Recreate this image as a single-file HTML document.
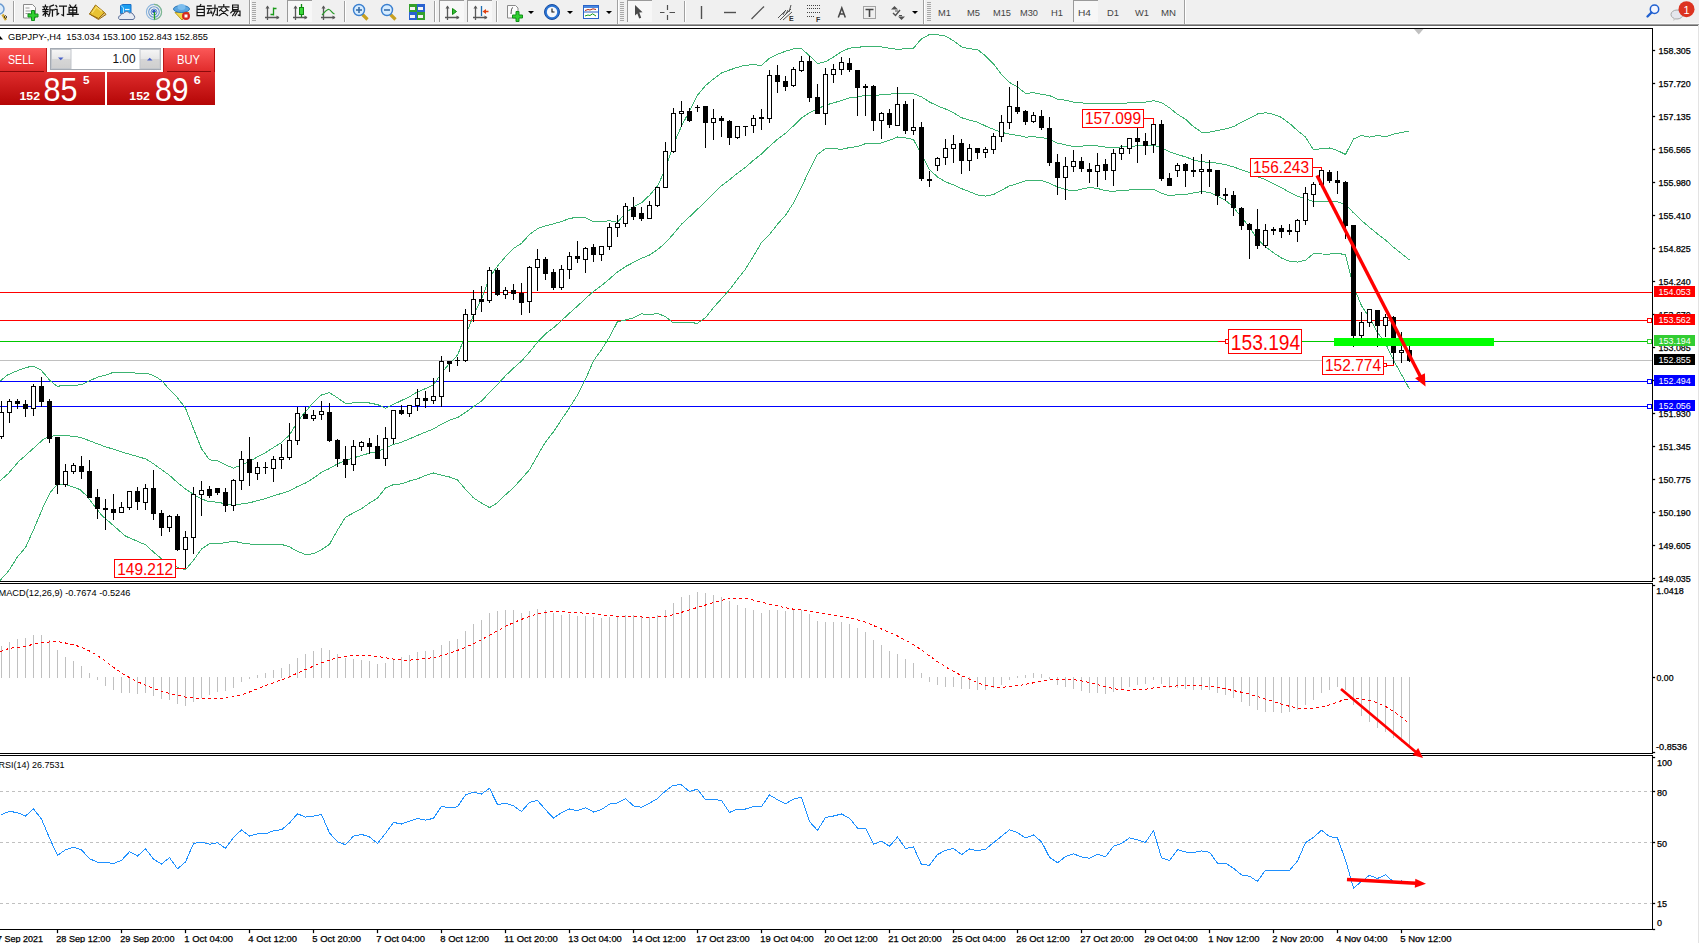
<!DOCTYPE html><html><head><meta charset="utf-8"><title>GBPJPY H4</title><style>html,body{margin:0;padding:0;width:1699px;height:943px;overflow:hidden;background:#fff}svg{position:absolute;left:0;top:0;display:block}</style></head><body>
<svg width="1699" height="943" viewBox="0 0 1699 943" font-family="Liberation Sans, sans-serif">
<rect x="0" y="0" width="1699" height="943" fill="#ffffff"/>
<g id="toolbar">
<rect x="0" y="0" width="1699" height="24" fill="#f0f0f0"/>
<line x1="0" y1="23.5" x2="1699" y2="23.5" stroke="#f7f7f7" stroke-width="1" />
<line x1="0" y1="24.5" x2="1699" y2="24.5" stroke="#a0a0a0" stroke-width="1" />
<line x1="0" y1="25.5" x2="1699" y2="25.5" stroke="#696969" stroke-width="1" />
<circle cx="-1" cy="9" r="5" fill="#dcecfb" stroke="#6a9ad0" stroke-width="1.5"/>
<path d="M2.5 14.5L6 20" stroke="#d0a830" stroke-width="2.5"/>
<path d="M5.5 15.5l1.5 1.5l-1.5 1.5l-1.5 -1.5z" fill="none" stroke="#222" stroke-width="0.8"/>
<rect x="13" y="1" width="1" height="21" fill="#a0a0a0"/><rect x="14" y="1" width="1" height="21" fill="#ffffff"/>
<path d="M23.5 4.5h9l3 3v10.5h-12z" fill="#fbfbfb" stroke="#8a8a8a"/>
<path d="M25.5 8h4M25.5 11h6M25.5 13.5h5" stroke="#9a9a9a" stroke-width="1"/>
<path d="M31.5 10.5h3v3.5h3.5v3h-3.5v3.5h-3v-3.5h-3.5v-3h3.5z" fill="#2fd02f" stroke="#13901a" stroke-width="1"/>
<g transform="translate(42.50 4.50) scale(0.976)" fill="none" stroke="#111" stroke-width="1.25" stroke-linecap="square"><path d="M3 0.5V1.8M0.5 2.3H5.5M1.6 3.3L2.1 4.6M4.4 3.3L3.9 4.6M0.3 5.2H5.8M0.6 7.2H5.5M3 5.2V12M3 8L0.6 11M3 8.2L5.6 10.4M11.3 0.6L7.6 2V8.2L6.5 12M7.6 5.6H12M10.2 5.6V12"/></g>
<g transform="translate(54.70 4.50) scale(0.976)" fill="none" stroke="#111" stroke-width="1.25" stroke-linecap="square"><path d="M1.2 1L2.2 2.4M0.5 5H2.5V10.5L4 9.2M5 1.6H12M9 1.6V11.5L7.4 10.5"/></g>
<g transform="translate(66.90 4.50) scale(0.976)" fill="none" stroke="#111" stroke-width="1.25" stroke-linecap="square"><path d="M3 0.5L4 2M9.2 0.5L8.2 2M2.2 3H10V8.6H2.2ZM2.2 5.8H10M6.1 3V12M0.5 10.2H11.6"/></g>
<path d="M89.5 14L98.5 19.5L106 14.5L104.5 12.5L98.5 18z" fill="#dcc07a" stroke="#9a6c10" stroke-width="1"/>
<path d="M89.5 14L95.5 5L104.5 12.5L98.5 18.5z" fill="#e8c232" stroke="#9a6c10" stroke-width="1"/>
<path d="M92 13L96.5 7L102 11.5" fill="none" stroke="#f8e070" stroke-width="1.2"/>
<path d="M120.5 5.5L123 4.5H131V13.5H120.5z" fill="#1a9ef0" stroke="#1a70c8" stroke-width="1"/>
<path d="M121 5.5L123.5 8V13" fill="none" stroke="#c8ecff" stroke-width="0.9"/>
<path d="M125 9.5h4.5" stroke="#e8f6ff" stroke-width="1.2"/>
<path d="M119.5 19.5H133a2.5 2.5 0 0 0 0.5 -4.5a3 3 0 0 0 -4 -2a3.5 3.5 0 0 0 -6 0.5a2.5 2.5 0 0 0 -3 2a2.2 2.2 0 0 0 -1 4z" fill="#e6ebf3" stroke="#5a6e98" stroke-width="1"/>
<circle cx="154" cy="12" r="7.6" fill="none" stroke="#8ab4dc" stroke-width="1.1"/>
<circle cx="154" cy="12" r="5.3" fill="none" stroke="#6a9ad0" stroke-width="1.1"/>
<circle cx="154" cy="12" r="3" fill="none" stroke="#5a8ad0" stroke-width="1"/>
<path d="M154 4.4A7.6 7.6 0 0 1 154 19.6" fill="none" stroke="#7ab87a" stroke-width="1.2" opacity="0.8"/>
<circle cx="154" cy="11.5" r="1.8" fill="#2a55c0"/><path d="M154.5 12V19.5" stroke="#20a020" stroke-width="1.3"/>
<path d="M175 12.5L189 12.5L182 20z" fill="#f2d64a" stroke="#b89a20" stroke-width="1"/>
<ellipse cx="181.5" cy="9" rx="8" ry="3.5" fill="#5aa6e0" stroke="#2e77b8" stroke-width="1"/>
<ellipse cx="181.5" cy="7" rx="4" ry="3" fill="#7cbdee"/>
<circle cx="186" cy="16" r="4" fill="#d42a20"/><rect x="184.5" y="14.5" width="3" height="3" fill="#fff"/>
<g transform="translate(195.00 4.50) scale(0.928)" fill="none" stroke="#111" stroke-width="1.25" stroke-linecap="square"><path d="M6.2 0L5.2 1.6M2.2 2H10V12H2.2ZM2.2 5.3H10M2.2 8.6H10"/></g>
<g transform="translate(206.60 4.50) scale(0.928)" fill="none" stroke="#111" stroke-width="1.25" stroke-linecap="square"><path d="M1 1.5H5M0.5 4.5H5.6M3 4.5L1 9.6L5.6 8.6M4.6 7L5.6 9.6M6.6 4H11.6V11.5L10 11M9 0.5V6L6.5 12"/></g>
<g transform="translate(218.20 4.50) scale(0.928)" fill="none" stroke="#111" stroke-width="1.25" stroke-linecap="square"><path d="M6 0V1.5M0.5 2.6H11.6M4 4L1.5 6.6M8 4L10.6 6.6M3.4 6.4L10.2 12M8.6 6.4L1 12"/></g>
<g transform="translate(229.80 4.50) scale(0.928)" fill="none" stroke="#111" stroke-width="1.25" stroke-linecap="square"><path d="M3 0.5H9V5.6H3ZM3 3H9M3.6 6.4L1 9M3.2 7.2H11V12L9.2 11.4M6.2 7.2L3 12M8.6 7.2L5.6 12"/></g>
<rect x="249" y="0" width="1" height="24" fill="#a0a0a0"/><rect x="250" y="0" width="1" height="24" fill="#fff"/>
<rect x="252" y="2" width="4" height="1" fill="#a8a8a8"/>
<rect x="252" y="4" width="4" height="1" fill="#a8a8a8"/>
<rect x="252" y="6" width="4" height="1" fill="#a8a8a8"/>
<rect x="252" y="8" width="4" height="1" fill="#a8a8a8"/>
<rect x="252" y="10" width="4" height="1" fill="#a8a8a8"/>
<rect x="252" y="12" width="4" height="1" fill="#a8a8a8"/>
<rect x="252" y="14" width="4" height="1" fill="#a8a8a8"/>
<rect x="252" y="16" width="4" height="1" fill="#a8a8a8"/>
<rect x="252" y="18" width="4" height="1" fill="#a8a8a8"/>
<rect x="252" y="20" width="4" height="1" fill="#a8a8a8"/>
<g stroke="#585858" stroke-width="1.3" fill="none"><path d="M267.5 6.5V20M265.0 17.5H279.0"/></g>
<path d="M267.5 5.5l-2 3h4z M279.5 17.5l-3 -2v4z" fill="#585858"/>
<path d="M270.5 14.5H273.5M273.5 7.5V15.5M273.5 8.5H276.5" fill="none" stroke="#1a9a1a" stroke-width="1.3"/>
<rect x="287" y="0" width="25" height="22" fill="#f7f7f7"/>
<rect x="287" y="0" width="25" height="1" fill="#9a9a9a"/>
<rect x="287" y="0" width="1" height="22" fill="#9a9a9a"/>
<g stroke="#585858" stroke-width="1.3" fill="none"><path d="M295.5 6.5V20M293.0 17.5H307.0"/></g>
<path d="M295.5 5.5l-2 3h4z M307.5 17.5l-3 -2v4z" fill="#585858"/>
<path d="M301.5 4V17" stroke="#118811" stroke-width="1.3"/>
<rect x="299.5" y="7.5" width="4" height="7" fill="#3ad83a" stroke="#118811"/>
<g stroke="#585858" stroke-width="1.3" fill="none"><path d="M323.5 6.5V20M321.0 17.5H335.0"/></g>
<path d="M323.5 5.5l-2 3h4z M335.5 17.5l-3 -2v4z" fill="#585858"/>
<path d="M322 15C325 12 327 9 329 9.5C331 10 332 13 334.5 14" fill="none" stroke="#2a9a2a" stroke-width="1.2"/>
<rect x="344" y="1" width="1" height="21" fill="#a0a0a0"/><rect x="345" y="1" width="1" height="21" fill="#ffffff"/>
<path d="M362.5 14.5L367.5 19.5" stroke="#c8a020" stroke-width="3.2"/>
<circle cx="359" cy="10" r="5.5" fill="#d6ecff" stroke="#3a7fcf" stroke-width="1.4"/>
<path d="M356.0 10H362.0" stroke="#3a6fa8" stroke-width="1.6"/>
<path d="M359 7V13" stroke="#3a6fa8" stroke-width="1.6"/>
<path d="M390.5 14.5L395.5 19.5" stroke="#c8a020" stroke-width="3.2"/>
<circle cx="387" cy="10" r="5.5" fill="#d6ecff" stroke="#3a7fcf" stroke-width="1.4"/>
<path d="M384.0 10H390.0" stroke="#3a6fa8" stroke-width="1.6"/>
<rect x="409" y="4" width="8" height="8" fill="#34a02c"/><rect x="410" y="7" width="5" height="3" fill="#f4f4f4"/>
<rect x="417" y="4" width="8" height="8" fill="#2a62d0"/><rect x="418" y="7" width="5" height="3" fill="#f4f4f4"/>
<rect x="409" y="12" width="8" height="8" fill="#2a62d0"/><rect x="410" y="15" width="5" height="3" fill="#f4f4f4"/>
<rect x="417" y="12" width="8" height="8" fill="#34a02c"/><rect x="418" y="15" width="5" height="3" fill="#f4f4f4"/>
<rect x="434" y="1" width="1" height="21" fill="#a0a0a0"/><rect x="435" y="1" width="1" height="21" fill="#ffffff"/>
<rect x="439" y="0" width="25" height="22" fill="#f7f7f7"/>
<rect x="439" y="0" width="25" height="1" fill="#9a9a9a"/>
<rect x="439" y="0" width="1" height="22" fill="#9a9a9a"/>
<g stroke="#585858" stroke-width="1.3" fill="none"><path d="M447.5 6.5V20M445.0 17.5H459.0"/></g>
<path d="M447.5 5.5l-2 3h4z M459.5 17.5l-3 -2v4z" fill="#585858"/>
<path d="M452.5 8.5L456.5 11.5L452.5 14.5z" fill="#30c030" stroke="#118811"/>
<rect x="467" y="0" width="25" height="22" fill="#f7f7f7"/>
<rect x="467" y="0" width="25" height="1" fill="#9a9a9a"/>
<rect x="467" y="0" width="1" height="22" fill="#9a9a9a"/>
<g stroke="#585858" stroke-width="1.3" fill="none"><path d="M475.5 6.5V20M473.0 17.5H487.0"/></g>
<path d="M475.5 5.5l-2 3h4z M487.5 17.5l-3 -2v4z" fill="#585858"/>
<path d="M481.5 6V16" stroke="#1f6db0" stroke-width="1.3"/><path d="M482.5 11.5l3.5 -2.5v1.8h2.5v1.4h-2.5v1.8z" fill="#e04010"/>
<rect x="496" y="1" width="1" height="21" fill="#a0a0a0"/><rect x="497" y="1" width="1" height="21" fill="#ffffff"/>
<path d="M507.5 5.5h8l2.5 2.5v10h-10.5z" fill="#fbfbfb" stroke="#8a8a8a"/>
<path d="M511 14C511.5 11 511 8 513 7.5" fill="none" stroke="#555" stroke-width="1"/>
<path d="M516 11.5h3v3.5h3.5v3h-3.5v3.5h-3v-3.5h-3.5v-3h3.5z" fill="#2fd02f" stroke="#13901a" stroke-width="1"/>
<path d="M528.0 11h6l-3 3z" fill="#000"/>
<circle cx="552" cy="12" r="7.5" fill="#2a74d4" stroke="#1a4ea0" stroke-width="1"/>
<circle cx="552" cy="12" r="5.2" fill="#f6f8fb"/>
<path d="M552 8.5V12H554.5" fill="none" stroke="#111" stroke-width="1.1"/>
<path d="M567.0 11h6l-3 3z" fill="#000"/>
<rect x="583.5" y="5.5" width="15" height="13" fill="#fff" stroke="#2a64c8" stroke-width="1"/>
<rect x="584" y="6" width="14" height="2" fill="#4a88e0"/><path d="M583.5 12H598.5" stroke="#2a64c8"/>
<path d="M585 10.5L588 9.5L590 10L593 8.8L596 9.5" fill="none" stroke="#b02a10" stroke-width="1"/>
<path d="M585 16L588 15L590 15.5L592.5 13.8L596 16" fill="none" stroke="#1a9a1a" stroke-width="1"/>
<path d="M606.0 11h6l-3 3z" fill="#000"/>
<rect x="617" y="0" width="1" height="24" fill="#a0a0a0"/><rect x="618" y="0" width="1" height="24" fill="#fff"/>
<rect x="620" y="2" width="4" height="1" fill="#a8a8a8"/>
<rect x="620" y="4" width="4" height="1" fill="#a8a8a8"/>
<rect x="620" y="6" width="4" height="1" fill="#a8a8a8"/>
<rect x="620" y="8" width="4" height="1" fill="#a8a8a8"/>
<rect x="620" y="10" width="4" height="1" fill="#a8a8a8"/>
<rect x="620" y="12" width="4" height="1" fill="#a8a8a8"/>
<rect x="620" y="14" width="4" height="1" fill="#a8a8a8"/>
<rect x="620" y="16" width="4" height="1" fill="#a8a8a8"/>
<rect x="620" y="18" width="4" height="1" fill="#a8a8a8"/>
<rect x="620" y="20" width="4" height="1" fill="#a8a8a8"/>
<rect x="627" y="0" width="25" height="22" fill="#f7f7f7"/>
<rect x="627" y="0" width="25" height="1" fill="#9a9a9a"/>
<rect x="627" y="0" width="1" height="22" fill="#9a9a9a"/>
<path d="M635 5L642.5 12.2L639.3 12.6L641.2 17.8L639.2 18.6L637.3 13.4L635 15.6z" fill="#4a4a4a"/>
<path d="M660 12.5H664.5M669.5 12.5H675M667.5 5V10M667.5 15V20" stroke="#505050" stroke-width="1.2"/>
<rect x="684" y="1" width="1" height="21" fill="#a0a0a0"/><rect x="685" y="1" width="1" height="21" fill="#ffffff"/>
<path d="M701.5 6V19" stroke="#505050" stroke-width="1.4"/>
<path d="M724 12.5H736" stroke="#505050" stroke-width="1.4"/>
<path d="M751.5 19L764 6.5" stroke="#505050" stroke-width="1.2"/>
<path d="M778 18L786 10M780 20L791 9M783 20L792 12M783 15L785 11M786 14L788 10M789 12L791 5" stroke="#505050" stroke-width="1"/>
<text x="789" y="21" font-size="7" font-weight="bold" fill="#333">E</text>
<path d="M807 5.5H820M807 8.5H820M807 12.5H820M807 16.5H815" stroke="#444" stroke-width="1" stroke-dasharray="1,1"/>
<text x="816" y="21.5" font-size="7" font-weight="bold" fill="#333">F</text>
<path d="M838.3 17.5L841.8 8L845.3 17.5M839.6 14H844" fill="none" stroke="#454545" stroke-width="1.5"/>
<rect x="863.5" y="6.5" width="12" height="12" fill="none" stroke="#555" stroke-dasharray="1,1"/>
<path d="M865.5 9.5H873.5M869.5 9.5V17" fill="none" stroke="#454545" stroke-width="1.6"/>
<path d="M891 9.5L894.5 6L898 9.5z M898 16.5L901.5 20L905 16.5z" fill="#505050"/>
<path d="M893 13L895.5 15.5L900 10" fill="none" stroke="#505050" stroke-width="1.4"/>
<path d="M895 10.5H898v1H895z" fill="#505050"/><path d="M899 15.5H902" stroke="#505050"/>
<path d="M912.0 11h6l-3 3z" fill="#000"/>
<rect x="923" y="0" width="1" height="24" fill="#a0a0a0"/><rect x="924" y="0" width="1" height="24" fill="#fff"/>
<rect x="927" y="2" width="4" height="1" fill="#a8a8a8"/>
<rect x="927" y="4" width="4" height="1" fill="#a8a8a8"/>
<rect x="927" y="6" width="4" height="1" fill="#a8a8a8"/>
<rect x="927" y="8" width="4" height="1" fill="#a8a8a8"/>
<rect x="927" y="10" width="4" height="1" fill="#a8a8a8"/>
<rect x="927" y="12" width="4" height="1" fill="#a8a8a8"/>
<rect x="927" y="14" width="4" height="1" fill="#a8a8a8"/>
<rect x="927" y="16" width="4" height="1" fill="#a8a8a8"/>
<rect x="927" y="18" width="4" height="1" fill="#a8a8a8"/>
<rect x="927" y="20" width="4" height="1" fill="#a8a8a8"/>
<rect x="1073" y="0" width="25" height="22" fill="#f7f7f7"/>
<rect x="1073" y="0" width="25" height="1" fill="#9a9a9a"/>
<rect x="1073" y="0" width="1" height="22" fill="#9a9a9a"/>
<text x="938" y="15.6" font-size="9.6" fill="#444444" textLength="13" lengthAdjust="spacingAndGlyphs">M1</text>
<text x="967" y="15.6" font-size="9.6" fill="#444444" textLength="13" lengthAdjust="spacingAndGlyphs">M5</text>
<text x="993" y="15.6" font-size="9.6" fill="#444444" textLength="18" lengthAdjust="spacingAndGlyphs">M15</text>
<text x="1020" y="15.6" font-size="9.6" fill="#444444" textLength="18" lengthAdjust="spacingAndGlyphs">M30</text>
<text x="1051" y="15.6" font-size="9.6" fill="#444444" textLength="12" lengthAdjust="spacingAndGlyphs">H1</text>
<text x="1078" y="15.6" font-size="9.6" fill="#444444" textLength="13" lengthAdjust="spacingAndGlyphs">H4</text>
<text x="1107" y="15.6" font-size="9.6" fill="#444444" textLength="12" lengthAdjust="spacingAndGlyphs">D1</text>
<text x="1135" y="15.6" font-size="9.6" fill="#444444" textLength="14" lengthAdjust="spacingAndGlyphs">W1</text>
<text x="1161" y="15.6" font-size="9.6" fill="#444444" textLength="15" lengthAdjust="spacingAndGlyphs">MN</text>
<rect x="1184" y="0" width="1" height="24" fill="#a0a0a0"/><rect x="1185" y="0" width="1" height="24" fill="#fff"/>
<circle cx="1654.5" cy="9.2" r="4.2" fill="#f4f6ff" stroke="#2060d0" stroke-width="1.5"/>
<path d="M1651.5 12.5L1647.5 16.5" stroke="#2060d0" stroke-width="2.4" stroke-linecap="round"/>
<ellipse cx="1677" cy="14.5" rx="6" ry="4.5" fill="#e4e6ec" stroke="#a8a8a8" stroke-width="1"/>
<path d="M1674 18L1673 21L1677 18.5" fill="#c8c8c8"/>
<circle cx="1686.5" cy="9.2" r="8" fill="#dc3320"/>
<text x="1686.5" y="13.5" font-size="11" fill="#fff" text-anchor="middle">1</text>
</g>
<g shape-rendering="crispEdges">
<line x1="0" y1="28.5" x2="1653" y2="28.5" stroke="#000000" stroke-width="1" />
<line x1="1698.5" y1="25" x2="1698.5" y2="943" stroke="#e3e3e3" stroke-width="1" />
<line x1="0" y1="292.5" x2="1652" y2="292.5" stroke="#ff0000" stroke-width="1" />
<line x1="0" y1="320.5" x2="1652" y2="320.5" stroke="#ff0000" stroke-width="1" />
<line x1="0" y1="341.5" x2="1652" y2="341.5" stroke="#00c800" stroke-width="1" />
<line x1="0" y1="360.5" x2="1652" y2="360.5" stroke="#c0c0c0" stroke-width="1" />
<line x1="0" y1="381.5" x2="1652" y2="381.5" stroke="#0000ff" stroke-width="1" />
<line x1="0" y1="406.5" x2="1652" y2="406.5" stroke="#0000ff" stroke-width="1" />
</g>
<g fill="none" stroke="#3cb371" stroke-width="1" shape-rendering="crispEdges">
<polyline points="0.0,381.2 7.1,375.2 13.2,372.4 21.7,369.1 27.3,367.2 33.0,366.3 40.5,369.6 44.3,373.8 49.9,380.6 57.4,386.5 61.2,385.6 76.3,385.3 82.9,384.2 90.4,380.4 97.9,377.1 106.4,375.0 113.0,372.4 133.7,372.4 135.6,373.4 146.9,373.4 153.5,375.5 161.5,380.3 169.5,389.6 177.5,397.8 185.5,408.2 193.5,428.7 201.5,448.7 209.5,459.8 217.5,460.7 225.5,464.9 233.5,468.1 241.5,465.1 249.5,461.5 257.5,456.8 265.5,452.6 273.5,447.5 281.5,442.5 289.5,435.0 297.5,421.5 305.5,411.6 313.5,402.4 321.5,394.9 329.5,392.7 337.5,397.8 345.5,403.4 353.5,402.9 361.5,402.3 369.5,403.0 377.5,404.6 385.5,408.1 393.5,404.4 401.5,400.5 409.5,396.7 417.5,391.9 425.5,388.6 433.5,384.8 441.5,373.1 449.5,363.5 457.5,355.2 465.5,335.5 473.5,315.3 481.5,299.1 489.5,277.6 497.5,266.0 505.5,256.6 513.5,248.5 521.5,243.3 529.5,234.5 537.5,228.7 545.5,225.8 553.5,223.8 561.5,221.5 569.5,218.5 577.5,217.2 585.5,217.6 593.5,222.0 601.5,221.6 609.5,220.7 617.5,222.3 625.5,213.2 633.5,207.0 641.5,202.8 649.5,195.3 657.5,186.0 665.5,168.9 673.5,144.5 681.5,126.0 689.5,111.0 697.5,95.3 705.5,85.7 713.5,78.9 721.5,72.9 729.5,70.0 737.5,67.3 745.5,65.2 753.5,64.7 761.5,65.4 769.5,58.2 777.5,54.3 785.5,51.2 793.5,48.9 801.5,48.7 809.5,55.7 817.5,63.5 825.5,61.7 833.5,57.1 841.5,51.6 849.5,48.2 857.5,47.2 865.5,46.7 873.5,46.6 881.5,46.9 889.5,48.2 897.5,49.3 905.5,48.8 913.5,48.1 921.5,38.8 929.5,34.5 937.5,34.8 945.5,36.1 953.5,40.7 961.5,46.8 969.5,48.8 977.5,49.5 985.5,55.8 993.5,64.0 1001.5,74.4 1009.5,82.4 1017.5,87.0 1025.5,93.4 1033.5,92.7 1041.5,94.4 1049.5,95.5 1057.5,99.2 1065.5,100.2 1073.5,102.1 1081.5,102.9 1089.5,103.7 1097.5,103.5 1105.5,103.3 1113.5,103.7 1121.5,103.5 1129.5,102.8 1137.5,102.3 1145.5,102.1 1153.5,100.7 1161.5,102.5 1169.5,107.8 1177.5,114.3 1185.5,119.2 1193.5,126.7 1201.5,132.1 1209.5,132.2 1217.5,130.4 1225.5,128.9 1233.5,126.7 1241.5,122.1 1249.5,118.4 1257.5,114.0 1265.5,112.8 1273.5,114.3 1281.5,117.4 1289.5,123.4 1297.5,130.5 1305.5,137.1 1313.5,149.8 1321.5,148.6 1329.5,148.0 1337.5,150.6 1345.5,154.5 1353.5,139.0 1361.5,135.4 1369.5,137.1 1377.5,135.4 1385.5,136.7 1393.5,134.2 1401.5,132.4 1409.5,131.0"/>
<polyline points="0.0,481.0 8.6,473.2 18.9,461.2 25.8,455.2 34.3,447.5 42.9,439.7 47.2,437.2 55.0,435.5 68.7,435.8 80.0,437.2 104.7,446.5 128.6,454.0 146.0,459.0 153.5,463.8 161.5,469.6 169.5,475.3 177.5,482.6 185.5,489.1 193.5,494.4 201.5,498.9 209.5,501.8 217.5,502.1 225.5,503.9 233.5,504.6 241.5,504.0 249.5,502.8 257.5,500.7 265.5,498.6 273.5,495.9 281.5,493.4 289.5,490.9 297.5,486.5 305.5,483.0 313.5,478.1 321.5,472.3 329.5,468.5 337.5,463.9 345.5,460.3 353.5,457.9 361.5,455.5 369.5,453.1 377.5,451.4 385.5,448.0 393.5,444.5 401.5,442.2 409.5,438.9 417.5,435.4 425.5,432.1 433.5,428.9 441.5,424.1 449.5,420.2 457.5,417.6 465.5,412.4 473.5,406.6 481.5,401.1 489.5,392.6 497.5,384.4 505.5,375.7 513.5,368.1 521.5,361.1 529.5,352.1 537.5,342.1 545.5,333.9 553.5,327.8 561.5,320.6 569.5,313.1 577.5,306.1 585.5,298.5 593.5,291.4 601.5,285.6 609.5,278.9 617.5,272.0 625.5,266.6 633.5,262.4 641.5,258.3 649.5,255.1 657.5,249.7 665.5,242.8 673.5,233.8 681.5,224.2 689.5,216.8 697.5,209.2 705.5,201.7 713.5,193.2 721.5,185.8 729.5,179.8 737.5,173.2 745.5,167.2 753.5,160.3 761.5,153.9 769.5,146.3 777.5,139.2 785.5,133.2 793.5,125.9 801.5,118.0 809.5,112.7 817.5,109.0 825.5,105.1 833.5,102.9 841.5,100.5 849.5,97.9 857.5,96.9 865.5,95.2 873.5,95.2 881.5,94.9 889.5,94.2 897.5,93.2 905.5,93.3 913.5,93.8 921.5,96.8 929.5,102.0 937.5,105.9 945.5,109.0 953.5,112.8 961.5,117.7 969.5,120.2 977.5,122.2 985.5,126.0 993.5,129.3 1001.5,132.3 1009.5,134.2 1017.5,135.3 1025.5,137.1 1033.5,136.8 1041.5,137.5 1049.5,139.4 1057.5,143.1 1065.5,144.8 1073.5,146.6 1081.5,146.1 1089.5,145.6 1097.5,145.9 1105.5,147.1 1113.5,147.5 1121.5,146.9 1129.5,146.4 1137.5,145.8 1145.5,145.7 1153.5,145.1 1161.5,147.8 1169.5,151.8 1177.5,154.5 1185.5,156.9 1193.5,159.8 1201.5,161.8 1209.5,162.3 1217.5,163.2 1225.5,164.7 1233.5,166.9 1241.5,169.8 1249.5,172.7 1257.5,176.7 1265.5,179.7 1273.5,183.6 1281.5,187.7 1289.5,192.3 1297.5,196.3 1305.5,198.7 1313.5,201.7 1321.5,201.3 1329.5,201.1 1337.5,201.9 1345.5,204.7 1353.5,212.8 1361.5,220.5 1369.5,227.4 1377.5,233.9 1385.5,240.0 1393.5,247.2 1401.5,253.5 1409.5,260.1"/>
<polyline points="0.0,580.5 8.6,571.0 17.2,557.3 25.8,547.0 34.3,528.0 42.9,507.6 49.8,493.0 56.7,484.9 59.2,484.4 65.2,484.4 80.0,489.5 86.7,495.9 101.7,515.3 125.6,536.2 146.0,545.0 153.5,552.1 161.5,558.8 169.5,561.0 177.5,567.4 185.5,569.9 193.5,560.2 201.5,549.1 209.5,543.7 217.5,543.6 225.5,542.8 233.5,541.1 241.5,542.9 249.5,544.0 257.5,544.6 265.5,544.6 273.5,544.4 281.5,544.4 289.5,546.8 297.5,551.5 305.5,554.4 313.5,553.8 321.5,549.7 329.5,544.3 337.5,530.1 345.5,517.2 353.5,512.9 361.5,508.7 369.5,503.1 377.5,498.1 385.5,487.9 393.5,484.6 401.5,483.9 409.5,481.0 417.5,478.9 425.5,475.5 433.5,473.0 441.5,475.1 449.5,477.0 457.5,480.0 465.5,489.3 473.5,497.9 481.5,503.1 489.5,507.6 497.5,502.8 505.5,494.8 513.5,487.6 521.5,478.8 529.5,469.7 537.5,455.6 545.5,442.0 553.5,431.7 561.5,419.6 569.5,407.7 577.5,395.0 585.5,379.4 593.5,360.8 601.5,349.7 609.5,337.0 617.5,321.7 625.5,320.0 633.5,317.9 641.5,313.8 649.5,314.8 657.5,313.4 665.5,316.6 673.5,323.0 681.5,322.4 689.5,322.7 697.5,323.2 705.5,317.7 713.5,307.6 721.5,298.7 729.5,289.7 737.5,279.2 745.5,269.1 753.5,256.0 761.5,242.5 769.5,234.5 777.5,224.2 785.5,215.3 793.5,202.9 801.5,187.4 809.5,169.6 817.5,154.4 825.5,148.5 833.5,148.7 841.5,149.3 849.5,147.6 857.5,146.6 865.5,143.6 873.5,143.9 881.5,142.9 889.5,140.3 897.5,137.0 905.5,137.9 913.5,139.5 921.5,154.8 929.5,169.6 937.5,177.0 945.5,181.9 953.5,184.8 961.5,188.6 969.5,191.7 977.5,194.9 985.5,196.1 993.5,194.6 1001.5,190.2 1009.5,185.9 1017.5,183.7 1025.5,180.7 1033.5,180.9 1041.5,180.6 1049.5,183.3 1057.5,186.9 1065.5,189.5 1073.5,191.0 1081.5,189.2 1089.5,187.5 1097.5,188.4 1105.5,190.8 1113.5,191.3 1121.5,190.3 1129.5,190.0 1137.5,189.4 1145.5,189.2 1153.5,189.4 1161.5,193.2 1169.5,195.8 1177.5,194.7 1185.5,194.7 1193.5,192.8 1201.5,191.6 1209.5,192.4 1217.5,196.0 1225.5,200.4 1233.5,207.2 1241.5,217.5 1249.5,227.0 1257.5,239.4 1265.5,246.6 1273.5,252.8 1281.5,258.0 1289.5,261.3 1297.5,262.1 1305.5,260.3 1313.5,253.6 1321.5,254.0 1329.5,254.1 1337.5,253.2 1345.5,254.8 1353.5,286.7 1361.5,305.6 1369.5,317.7 1377.5,332.4 1385.5,343.3 1393.5,360.3 1401.5,374.6 1409.5,389.1"/>
</g>
<g shape-rendering="crispEdges">
<rect x="1" y="401" width="1" height="38" fill="#000"/>
<rect x="-0.5" y="412.5" width="4" height="24" fill="#fff" stroke="#000" stroke-width="1"/>
<rect x="9" y="399" width="1" height="24" fill="#000"/>
<rect x="7.5" y="401.5" width="4" height="11" fill="#fff" stroke="#000" stroke-width="1"/>
<rect x="17" y="399" width="1" height="10" fill="#000"/>
<rect x="15" y="401" width="5" height="3" fill="#000"/>
<rect x="25" y="400" width="1" height="17" fill="#000"/>
<rect x="23" y="404" width="5" height="5" fill="#000"/>
<rect x="33" y="384" width="1" height="32" fill="#000"/>
<rect x="31.5" y="386.5" width="4" height="22" fill="#fff" stroke="#000" stroke-width="1"/>
<rect x="41" y="377" width="1" height="30" fill="#000"/>
<rect x="39" y="386" width="5" height="16" fill="#000"/>
<rect x="49" y="399" width="1" height="44" fill="#000"/>
<rect x="47" y="401" width="5" height="38" fill="#000"/>
<rect x="57" y="437" width="1" height="57" fill="#000"/>
<rect x="55" y="437" width="5" height="48" fill="#000"/>
<rect x="65" y="464" width="1" height="23" fill="#000"/>
<rect x="63.5" y="471.5" width="4" height="13" fill="#fff" stroke="#000" stroke-width="1"/>
<rect x="73" y="463" width="1" height="11" fill="#000"/>
<rect x="71.5" y="465.5" width="4" height="6" fill="#fff" stroke="#000" stroke-width="1"/>
<rect x="81" y="456" width="1" height="23" fill="#000"/>
<rect x="79" y="466" width="5" height="6" fill="#000"/>
<rect x="89" y="460" width="1" height="38" fill="#000"/>
<rect x="87" y="471" width="5" height="27" fill="#000"/>
<rect x="97" y="489" width="1" height="30" fill="#000"/>
<rect x="95" y="497" width="5" height="12" fill="#000"/>
<rect x="105" y="499" width="1" height="31" fill="#000"/>
<rect x="103" y="508" width="5" height="2" fill="#000"/>
<rect x="113" y="494" width="1" height="26" fill="#000"/>
<rect x="111" y="509" width="5" height="4" fill="#000"/>
<rect x="121" y="502" width="1" height="11" fill="#000"/>
<rect x="119.5" y="507.5" width="4" height="5" fill="#fff" stroke="#000" stroke-width="1"/>
<rect x="129" y="491" width="1" height="19" fill="#000"/>
<rect x="127.5" y="491.5" width="4" height="16" fill="#fff" stroke="#000" stroke-width="1"/>
<rect x="137" y="487" width="1" height="23" fill="#000"/>
<rect x="135" y="491" width="5" height="11" fill="#000"/>
<rect x="145" y="484" width="1" height="26" fill="#000"/>
<rect x="143.5" y="488.5" width="4" height="14" fill="#fff" stroke="#000" stroke-width="1"/>
<rect x="153" y="470" width="1" height="50" fill="#000"/>
<rect x="151" y="488" width="5" height="26" fill="#000"/>
<rect x="161" y="510" width="1" height="26" fill="#000"/>
<rect x="159" y="513" width="5" height="15" fill="#000"/>
<rect x="169" y="515" width="1" height="17" fill="#000"/>
<rect x="167.5" y="516.5" width="4" height="11" fill="#fff" stroke="#000" stroke-width="1"/>
<rect x="177" y="514" width="1" height="37" fill="#000"/>
<rect x="175" y="516" width="5" height="34" fill="#000"/>
<rect x="185" y="531" width="1" height="38" fill="#000"/>
<rect x="183.5" y="537.5" width="4" height="12" fill="#fff" stroke="#000" stroke-width="1"/>
<rect x="193" y="487" width="1" height="67" fill="#000"/>
<rect x="191.5" y="494.5" width="4" height="43" fill="#fff" stroke="#000" stroke-width="1"/>
<rect x="201" y="481" width="1" height="35" fill="#000"/>
<rect x="199.5" y="490.5" width="4" height="4" fill="#fff" stroke="#000" stroke-width="1"/>
<rect x="209" y="486" width="1" height="12" fill="#000"/>
<rect x="207" y="489" width="5" height="7" fill="#000"/>
<rect x="217" y="488" width="1" height="7" fill="#000"/>
<rect x="215" y="488" width="5" height="5" fill="#000"/>
<rect x="225" y="488" width="1" height="24" fill="#000"/>
<rect x="223" y="492" width="5" height="14" fill="#000"/>
<rect x="233" y="479" width="1" height="32" fill="#000"/>
<rect x="231.5" y="480.5" width="4" height="25" fill="#fff" stroke="#000" stroke-width="1"/>
<rect x="241" y="451" width="1" height="39" fill="#000"/>
<rect x="239.5" y="459.5" width="4" height="21" fill="#fff" stroke="#000" stroke-width="1"/>
<rect x="249" y="437" width="1" height="49" fill="#000"/>
<rect x="247" y="459" width="5" height="14" fill="#000"/>
<rect x="257" y="462" width="1" height="18" fill="#000"/>
<rect x="255.5" y="467.5" width="4" height="6" fill="#fff" stroke="#000" stroke-width="1"/>
<rect x="265" y="462" width="1" height="12" fill="#000"/>
<rect x="263" y="467" width="5" height="1" fill="#000"/>
<rect x="273" y="456" width="1" height="26" fill="#000"/>
<rect x="271.5" y="459.5" width="4" height="9" fill="#fff" stroke="#000" stroke-width="1"/>
<rect x="281" y="444" width="1" height="25" fill="#000"/>
<rect x="279.5" y="457.5" width="4" height="2" fill="#fff" stroke="#000" stroke-width="1"/>
<rect x="289" y="423" width="1" height="37" fill="#000"/>
<rect x="287.5" y="440.5" width="4" height="17" fill="#fff" stroke="#000" stroke-width="1"/>
<rect x="297" y="407" width="1" height="38" fill="#000"/>
<rect x="295.5" y="413.5" width="4" height="27" fill="#fff" stroke="#000" stroke-width="1"/>
<rect x="305" y="407" width="1" height="12" fill="#000"/>
<rect x="303" y="414" width="5" height="5" fill="#000"/>
<rect x="313" y="410" width="1" height="11" fill="#000"/>
<rect x="311.5" y="415.5" width="4" height="3" fill="#fff" stroke="#000" stroke-width="1"/>
<rect x="321" y="401" width="1" height="19" fill="#000"/>
<rect x="319.5" y="411.5" width="4" height="3" fill="#fff" stroke="#000" stroke-width="1"/>
<rect x="329" y="403" width="1" height="39" fill="#000"/>
<rect x="327" y="412" width="5" height="29" fill="#000"/>
<rect x="337" y="439" width="1" height="28" fill="#000"/>
<rect x="335" y="440" width="5" height="19" fill="#000"/>
<rect x="345" y="446" width="1" height="32" fill="#000"/>
<rect x="343" y="459" width="5" height="6" fill="#000"/>
<rect x="353" y="440" width="1" height="31" fill="#000"/>
<rect x="351.5" y="446.5" width="4" height="18" fill="#fff" stroke="#000" stroke-width="1"/>
<rect x="361" y="441" width="1" height="10" fill="#000"/>
<rect x="359.5" y="442.5" width="4" height="4" fill="#fff" stroke="#000" stroke-width="1"/>
<rect x="369" y="438" width="1" height="16" fill="#000"/>
<rect x="367" y="443" width="5" height="4" fill="#000"/>
<rect x="377" y="435" width="1" height="24" fill="#000"/>
<rect x="375" y="446" width="5" height="13" fill="#000"/>
<rect x="385" y="427" width="1" height="39" fill="#000"/>
<rect x="383.5" y="438.5" width="4" height="20" fill="#fff" stroke="#000" stroke-width="1"/>
<rect x="393" y="410" width="1" height="34" fill="#000"/>
<rect x="391.5" y="410.5" width="4" height="28" fill="#fff" stroke="#000" stroke-width="1"/>
<rect x="401" y="405" width="1" height="10" fill="#000"/>
<rect x="399" y="410" width="5" height="4" fill="#000"/>
<rect x="409" y="405" width="1" height="12" fill="#000"/>
<rect x="407.5" y="405.5" width="4" height="8" fill="#fff" stroke="#000" stroke-width="1"/>
<rect x="417" y="389" width="1" height="22" fill="#000"/>
<rect x="415.5" y="398.5" width="4" height="7" fill="#fff" stroke="#000" stroke-width="1"/>
<rect x="425" y="391" width="1" height="17" fill="#000"/>
<rect x="423" y="398" width="5" height="3" fill="#000"/>
<rect x="433" y="378" width="1" height="26" fill="#000"/>
<rect x="431.5" y="396.5" width="4" height="4" fill="#fff" stroke="#000" stroke-width="1"/>
<rect x="441" y="356" width="1" height="51" fill="#000"/>
<rect x="439.5" y="361.5" width="4" height="35" fill="#fff" stroke="#000" stroke-width="1"/>
<rect x="449" y="361" width="1" height="11" fill="#000"/>
<rect x="447" y="361" width="5" height="3" fill="#000"/>
<rect x="457" y="357" width="1" height="9" fill="#000"/>
<rect x="455" y="360" width="5" height="1" fill="#000"/>
<rect x="465" y="309" width="1" height="53" fill="#000"/>
<rect x="463.5" y="314.5" width="4" height="46" fill="#fff" stroke="#000" stroke-width="1"/>
<rect x="473" y="290" width="1" height="32" fill="#000"/>
<rect x="471.5" y="299.5" width="4" height="15" fill="#fff" stroke="#000" stroke-width="1"/>
<rect x="481" y="286" width="1" height="26" fill="#000"/>
<rect x="479" y="299" width="5" height="3" fill="#000"/>
<rect x="489" y="267" width="1" height="36" fill="#000"/>
<rect x="487.5" y="270.5" width="4" height="30" fill="#fff" stroke="#000" stroke-width="1"/>
<rect x="497" y="268" width="1" height="28" fill="#000"/>
<rect x="495" y="270" width="5" height="25" fill="#000"/>
<rect x="505" y="287" width="1" height="12" fill="#000"/>
<rect x="503.5" y="290.5" width="4" height="4" fill="#fff" stroke="#000" stroke-width="1"/>
<rect x="513" y="284" width="1" height="16" fill="#000"/>
<rect x="511" y="290" width="5" height="4" fill="#000"/>
<rect x="521" y="283" width="1" height="32" fill="#000"/>
<rect x="519" y="293" width="5" height="10" fill="#000"/>
<rect x="529" y="266" width="1" height="47" fill="#000"/>
<rect x="527.5" y="267.5" width="4" height="34" fill="#fff" stroke="#000" stroke-width="1"/>
<rect x="537" y="249" width="1" height="42" fill="#000"/>
<rect x="535.5" y="259.5" width="4" height="8" fill="#fff" stroke="#000" stroke-width="1"/>
<rect x="545" y="257" width="1" height="23" fill="#000"/>
<rect x="543" y="259" width="5" height="15" fill="#000"/>
<rect x="553" y="269" width="1" height="21" fill="#000"/>
<rect x="551" y="272" width="5" height="16" fill="#000"/>
<rect x="561" y="265" width="1" height="25" fill="#000"/>
<rect x="559.5" y="269.5" width="4" height="18" fill="#fff" stroke="#000" stroke-width="1"/>
<rect x="569" y="252" width="1" height="27" fill="#000"/>
<rect x="567.5" y="256.5" width="4" height="13" fill="#fff" stroke="#000" stroke-width="1"/>
<rect x="577" y="241" width="1" height="22" fill="#000"/>
<rect x="575" y="256" width="5" height="3" fill="#000"/>
<rect x="585" y="247" width="1" height="26" fill="#000"/>
<rect x="583.5" y="248.5" width="4" height="11" fill="#fff" stroke="#000" stroke-width="1"/>
<rect x="593" y="244" width="1" height="18" fill="#000"/>
<rect x="591" y="247" width="5" height="8" fill="#000"/>
<rect x="601" y="246" width="1" height="15" fill="#000"/>
<rect x="599.5" y="246.5" width="4" height="8" fill="#fff" stroke="#000" stroke-width="1"/>
<rect x="609" y="223" width="1" height="27" fill="#000"/>
<rect x="607.5" y="227.5" width="4" height="19" fill="#fff" stroke="#000" stroke-width="1"/>
<rect x="617" y="215" width="1" height="22" fill="#000"/>
<rect x="615.5" y="223.5" width="4" height="4" fill="#fff" stroke="#000" stroke-width="1"/>
<rect x="625" y="203" width="1" height="24" fill="#000"/>
<rect x="623.5" y="206.5" width="4" height="17" fill="#fff" stroke="#000" stroke-width="1"/>
<rect x="633" y="197" width="1" height="23" fill="#000"/>
<rect x="631" y="207" width="5" height="10" fill="#000"/>
<rect x="641" y="207" width="1" height="14" fill="#000"/>
<rect x="639" y="213" width="5" height="6" fill="#000"/>
<rect x="649" y="201" width="1" height="18" fill="#000"/>
<rect x="647.5" y="205.5" width="4" height="13" fill="#fff" stroke="#000" stroke-width="1"/>
<rect x="657" y="187" width="1" height="20" fill="#000"/>
<rect x="655.5" y="187.5" width="4" height="18" fill="#fff" stroke="#000" stroke-width="1"/>
<rect x="665" y="142" width="1" height="46" fill="#000"/>
<rect x="663.5" y="151.5" width="4" height="36" fill="#fff" stroke="#000" stroke-width="1"/>
<rect x="673" y="108" width="1" height="45" fill="#000"/>
<rect x="671.5" y="113.5" width="4" height="38" fill="#fff" stroke="#000" stroke-width="1"/>
<rect x="681" y="101" width="1" height="26" fill="#000"/>
<rect x="679.5" y="111.5" width="4" height="2" fill="#fff" stroke="#000" stroke-width="1"/>
<rect x="689" y="108" width="1" height="14" fill="#000"/>
<rect x="687" y="111" width="5" height="10" fill="#000"/>
<rect x="697" y="105" width="1" height="7" fill="#000"/>
<rect x="695" y="107" width="5" height="1" fill="#000"/>
<rect x="705" y="106" width="1" height="42" fill="#000"/>
<rect x="703" y="106" width="5" height="17" fill="#000"/>
<rect x="713" y="109" width="1" height="31" fill="#000"/>
<rect x="711.5" y="118.5" width="4" height="4" fill="#fff" stroke="#000" stroke-width="1"/>
<rect x="721" y="116" width="1" height="21" fill="#000"/>
<rect x="719" y="118" width="5" height="3" fill="#000"/>
<rect x="729" y="120" width="1" height="25" fill="#000"/>
<rect x="727" y="121" width="5" height="17" fill="#000"/>
<rect x="737" y="126" width="1" height="13" fill="#000"/>
<rect x="735.5" y="126.5" width="4" height="11" fill="#fff" stroke="#000" stroke-width="1"/>
<rect x="745" y="126" width="1" height="10" fill="#000"/>
<rect x="743" y="126" width="5" height="1" fill="#000"/>
<rect x="753" y="115" width="1" height="18" fill="#000"/>
<rect x="751.5" y="118.5" width="4" height="7" fill="#fff" stroke="#000" stroke-width="1"/>
<rect x="761" y="109" width="1" height="21" fill="#000"/>
<rect x="759" y="117" width="5" height="2" fill="#000"/>
<rect x="769" y="70" width="1" height="53" fill="#000"/>
<rect x="767.5" y="75.5" width="4" height="43" fill="#fff" stroke="#000" stroke-width="1"/>
<rect x="777" y="65" width="1" height="28" fill="#000"/>
<rect x="775" y="75" width="5" height="7" fill="#000"/>
<rect x="785" y="76" width="1" height="15" fill="#000"/>
<rect x="783" y="81" width="5" height="6" fill="#000"/>
<rect x="793" y="67" width="1" height="20" fill="#000"/>
<rect x="791.5" y="69.5" width="4" height="16" fill="#fff" stroke="#000" stroke-width="1"/>
<rect x="801" y="56" width="1" height="16" fill="#000"/>
<rect x="799.5" y="61.5" width="4" height="9" fill="#fff" stroke="#000" stroke-width="1"/>
<rect x="809" y="56" width="1" height="46" fill="#000"/>
<rect x="807" y="61" width="5" height="37" fill="#000"/>
<rect x="817" y="84" width="1" height="30" fill="#000"/>
<rect x="815" y="97" width="5" height="17" fill="#000"/>
<rect x="825" y="68" width="1" height="57" fill="#000"/>
<rect x="823.5" y="74.5" width="4" height="39" fill="#fff" stroke="#000" stroke-width="1"/>
<rect x="833" y="64" width="1" height="19" fill="#000"/>
<rect x="831.5" y="69.5" width="4" height="5" fill="#fff" stroke="#000" stroke-width="1"/>
<rect x="841" y="57" width="1" height="18" fill="#000"/>
<rect x="839.5" y="62.5" width="4" height="7" fill="#fff" stroke="#000" stroke-width="1"/>
<rect x="849" y="58" width="1" height="14" fill="#000"/>
<rect x="847" y="63" width="5" height="7" fill="#000"/>
<rect x="857" y="70" width="1" height="46" fill="#000"/>
<rect x="855" y="70" width="5" height="18" fill="#000"/>
<rect x="865" y="84" width="1" height="32" fill="#000"/>
<rect x="863" y="86" width="5" height="2" fill="#000"/>
<rect x="873" y="85" width="1" height="46" fill="#000"/>
<rect x="871" y="86" width="5" height="35" fill="#000"/>
<rect x="881" y="112" width="1" height="27" fill="#000"/>
<rect x="879.5" y="113.5" width="4" height="7" fill="#fff" stroke="#000" stroke-width="1"/>
<rect x="889" y="109" width="1" height="19" fill="#000"/>
<rect x="887" y="113" width="5" height="12" fill="#000"/>
<rect x="897" y="87" width="1" height="39" fill="#000"/>
<rect x="895.5" y="104.5" width="4" height="21" fill="#fff" stroke="#000" stroke-width="1"/>
<rect x="905" y="101" width="1" height="33" fill="#000"/>
<rect x="903" y="104" width="5" height="27" fill="#000"/>
<rect x="913" y="99" width="1" height="36" fill="#000"/>
<rect x="911.5" y="127.5" width="4" height="3" fill="#fff" stroke="#000" stroke-width="1"/>
<rect x="921" y="122" width="1" height="59" fill="#000"/>
<rect x="919" y="127" width="5" height="52" fill="#000"/>
<rect x="929" y="171" width="1" height="16" fill="#000"/>
<rect x="927" y="179" width="5" height="2" fill="#000"/>
<rect x="937" y="157" width="1" height="14" fill="#000"/>
<rect x="935.5" y="158.5" width="4" height="7" fill="#fff" stroke="#000" stroke-width="1"/>
<rect x="945" y="139" width="1" height="26" fill="#000"/>
<rect x="943.5" y="148.5" width="4" height="9" fill="#fff" stroke="#000" stroke-width="1"/>
<rect x="953" y="135" width="1" height="28" fill="#000"/>
<rect x="951.5" y="144.5" width="4" height="4" fill="#fff" stroke="#000" stroke-width="1"/>
<rect x="961" y="139" width="1" height="35" fill="#000"/>
<rect x="959" y="143" width="5" height="18" fill="#000"/>
<rect x="969" y="144" width="1" height="27" fill="#000"/>
<rect x="967.5" y="148.5" width="4" height="12" fill="#fff" stroke="#000" stroke-width="1"/>
<rect x="977" y="148" width="1" height="11" fill="#000"/>
<rect x="975" y="148" width="5" height="5" fill="#000"/>
<rect x="985" y="147" width="1" height="11" fill="#000"/>
<rect x="983.5" y="149.5" width="4" height="3" fill="#fff" stroke="#000" stroke-width="1"/>
<rect x="993" y="133" width="1" height="21" fill="#000"/>
<rect x="991.5" y="136.5" width="4" height="13" fill="#fff" stroke="#000" stroke-width="1"/>
<rect x="1001" y="115" width="1" height="27" fill="#000"/>
<rect x="999.5" y="122.5" width="4" height="14" fill="#fff" stroke="#000" stroke-width="1"/>
<rect x="1009" y="87" width="1" height="42" fill="#000"/>
<rect x="1007.5" y="106.5" width="4" height="16" fill="#fff" stroke="#000" stroke-width="1"/>
<rect x="1017" y="81" width="1" height="33" fill="#000"/>
<rect x="1015" y="107" width="5" height="5" fill="#000"/>
<rect x="1025" y="110" width="1" height="15" fill="#000"/>
<rect x="1023" y="111" width="5" height="11" fill="#000"/>
<rect x="1033" y="112" width="1" height="11" fill="#000"/>
<rect x="1031.5" y="115.5" width="4" height="6" fill="#fff" stroke="#000" stroke-width="1"/>
<rect x="1041" y="110" width="1" height="20" fill="#000"/>
<rect x="1039" y="116" width="5" height="12" fill="#000"/>
<rect x="1049" y="117" width="1" height="49" fill="#000"/>
<rect x="1047" y="128" width="5" height="35" fill="#000"/>
<rect x="1057" y="154" width="1" height="41" fill="#000"/>
<rect x="1055" y="162" width="5" height="16" fill="#000"/>
<rect x="1065" y="157" width="1" height="43" fill="#000"/>
<rect x="1063.5" y="166.5" width="4" height="11" fill="#fff" stroke="#000" stroke-width="1"/>
<rect x="1073" y="150" width="1" height="22" fill="#000"/>
<rect x="1071.5" y="161.5" width="4" height="5" fill="#fff" stroke="#000" stroke-width="1"/>
<rect x="1081" y="157" width="1" height="15" fill="#000"/>
<rect x="1079" y="161" width="5" height="8" fill="#000"/>
<rect x="1089" y="163" width="1" height="20" fill="#000"/>
<rect x="1087" y="169" width="5" height="3" fill="#000"/>
<rect x="1097" y="153" width="1" height="34" fill="#000"/>
<rect x="1095.5" y="165.5" width="4" height="6" fill="#fff" stroke="#000" stroke-width="1"/>
<rect x="1105" y="159" width="1" height="21" fill="#000"/>
<rect x="1103" y="164" width="5" height="7" fill="#000"/>
<rect x="1113" y="149" width="1" height="37" fill="#000"/>
<rect x="1111.5" y="153.5" width="4" height="17" fill="#fff" stroke="#000" stroke-width="1"/>
<rect x="1121" y="145" width="1" height="15" fill="#000"/>
<rect x="1119.5" y="148.5" width="4" height="5" fill="#fff" stroke="#000" stroke-width="1"/>
<rect x="1129" y="138" width="1" height="16" fill="#000"/>
<rect x="1127.5" y="138.5" width="4" height="10" fill="#fff" stroke="#000" stroke-width="1"/>
<rect x="1137" y="128" width="1" height="35" fill="#000"/>
<rect x="1135" y="138" width="5" height="4" fill="#000"/>
<rect x="1145" y="133" width="1" height="22" fill="#000"/>
<rect x="1143" y="141" width="5" height="5" fill="#000"/>
<rect x="1153" y="118" width="1" height="35" fill="#000"/>
<rect x="1151.5" y="124.5" width="4" height="20" fill="#fff" stroke="#000" stroke-width="1"/>
<rect x="1161" y="120" width="1" height="61" fill="#000"/>
<rect x="1159" y="124" width="5" height="55" fill="#000"/>
<rect x="1169" y="173" width="1" height="13" fill="#000"/>
<rect x="1167" y="178" width="5" height="8" fill="#000"/>
<rect x="1177" y="163" width="1" height="14" fill="#000"/>
<rect x="1175.5" y="165.5" width="4" height="5" fill="#fff" stroke="#000" stroke-width="1"/>
<rect x="1185" y="163" width="1" height="24" fill="#000"/>
<rect x="1183" y="164" width="5" height="7" fill="#000"/>
<rect x="1193" y="157" width="1" height="20" fill="#000"/>
<rect x="1191" y="170" width="5" height="2" fill="#000"/>
<rect x="1201" y="154" width="1" height="40" fill="#000"/>
<rect x="1199.5" y="169.5" width="4" height="2" fill="#fff" stroke="#000" stroke-width="1"/>
<rect x="1209" y="160" width="1" height="27" fill="#000"/>
<rect x="1207" y="169" width="5" height="3" fill="#000"/>
<rect x="1217" y="170" width="1" height="35" fill="#000"/>
<rect x="1215" y="170" width="5" height="26" fill="#000"/>
<rect x="1225" y="188" width="1" height="13" fill="#000"/>
<rect x="1223" y="194" width="5" height="2" fill="#000"/>
<rect x="1233" y="191" width="1" height="25" fill="#000"/>
<rect x="1231" y="195" width="5" height="13" fill="#000"/>
<rect x="1241" y="207" width="1" height="23" fill="#000"/>
<rect x="1239" y="208" width="5" height="18" fill="#000"/>
<rect x="1249" y="223" width="1" height="36" fill="#000"/>
<rect x="1247" y="224" width="5" height="6" fill="#000"/>
<rect x="1257" y="209" width="1" height="40" fill="#000"/>
<rect x="1255" y="229" width="5" height="17" fill="#000"/>
<rect x="1265" y="224" width="1" height="24" fill="#000"/>
<rect x="1263.5" y="230.5" width="4" height="15" fill="#fff" stroke="#000" stroke-width="1"/>
<rect x="1273" y="227" width="1" height="8" fill="#000"/>
<rect x="1271" y="229" width="5" height="2" fill="#000"/>
<rect x="1281" y="225" width="1" height="13" fill="#000"/>
<rect x="1279" y="228" width="5" height="4" fill="#000"/>
<rect x="1289" y="224" width="1" height="11" fill="#000"/>
<rect x="1287" y="230" width="5" height="2" fill="#000"/>
<rect x="1297" y="219" width="1" height="23" fill="#000"/>
<rect x="1295.5" y="220.5" width="4" height="11" fill="#fff" stroke="#000" stroke-width="1"/>
<rect x="1305" y="187" width="1" height="38" fill="#000"/>
<rect x="1303.5" y="193.5" width="4" height="27" fill="#fff" stroke="#000" stroke-width="1"/>
<rect x="1313" y="182" width="1" height="25" fill="#000"/>
<rect x="1311.5" y="184.5" width="4" height="10" fill="#fff" stroke="#000" stroke-width="1"/>
<rect x="1321" y="169" width="1" height="16" fill="#000"/>
<rect x="1319.5" y="170.5" width="4" height="14" fill="#fff" stroke="#000" stroke-width="1"/>
<rect x="1329" y="170" width="1" height="13" fill="#000"/>
<rect x="1327" y="172" width="5" height="9" fill="#000"/>
<rect x="1337" y="171" width="1" height="23" fill="#000"/>
<rect x="1335" y="180" width="5" height="3" fill="#000"/>
<rect x="1345" y="181" width="1" height="58" fill="#000"/>
<rect x="1343" y="182" width="5" height="44" fill="#000"/>
<rect x="1353" y="225" width="1" height="122" fill="#000"/>
<rect x="1351" y="225" width="5" height="111" fill="#000"/>
<rect x="1361" y="312" width="1" height="26" fill="#000"/>
<rect x="1359.5" y="322.5" width="4" height="13" fill="#fff" stroke="#000" stroke-width="1"/>
<rect x="1369" y="309" width="1" height="18" fill="#000"/>
<rect x="1367.5" y="309.5" width="4" height="13" fill="#fff" stroke="#000" stroke-width="1"/>
<rect x="1377" y="310" width="1" height="37" fill="#000"/>
<rect x="1375" y="310" width="5" height="16" fill="#000"/>
<rect x="1385" y="314" width="1" height="23" fill="#000"/>
<rect x="1383.5" y="317.5" width="4" height="8" fill="#fff" stroke="#000" stroke-width="1"/>
<rect x="1393" y="316" width="1" height="49" fill="#000"/>
<rect x="1391" y="317" width="5" height="36" fill="#000"/>
<rect x="1401" y="332" width="1" height="31" fill="#000"/>
<rect x="1399.5" y="350.5" width="4" height="2" fill="#fff" stroke="#000" stroke-width="1"/>
<rect x="1409" y="346" width="1" height="16" fill="#000"/>
<rect x="1407" y="350" width="5" height="11" fill="#000"/>
</g>
<g shape-rendering="crispEdges">
<rect x="1" y="646" width="1" height="32" fill="#c0c0c0"/>
<rect x="9" y="642" width="1" height="36" fill="#c0c0c0"/>
<rect x="17" y="639" width="1" height="39" fill="#c0c0c0"/>
<rect x="25" y="638" width="1" height="40" fill="#c0c0c0"/>
<rect x="33" y="635" width="1" height="43" fill="#c0c0c0"/>
<rect x="41" y="635" width="1" height="43" fill="#c0c0c0"/>
<rect x="49" y="640" width="1" height="38" fill="#c0c0c0"/>
<rect x="57" y="650" width="1" height="28" fill="#c0c0c0"/>
<rect x="65" y="657" width="1" height="21" fill="#c0c0c0"/>
<rect x="73" y="661" width="1" height="17" fill="#c0c0c0"/>
<rect x="81" y="666" width="1" height="12" fill="#c0c0c0"/>
<rect x="89" y="673" width="1" height="5" fill="#c0c0c0"/>
<rect x="97" y="677" width="1" height="3" fill="#c0c0c0"/>
<rect x="105" y="677" width="1" height="9" fill="#c0c0c0"/>
<rect x="113" y="677" width="1" height="13" fill="#c0c0c0"/>
<rect x="121" y="677" width="1" height="16" fill="#c0c0c0"/>
<rect x="129" y="677" width="1" height="16" fill="#c0c0c0"/>
<rect x="137" y="677" width="1" height="17" fill="#c0c0c0"/>
<rect x="145" y="677" width="1" height="16" fill="#c0c0c0"/>
<rect x="153" y="677" width="1" height="19" fill="#c0c0c0"/>
<rect x="161" y="677" width="1" height="22" fill="#c0c0c0"/>
<rect x="169" y="677" width="1" height="23" fill="#c0c0c0"/>
<rect x="177" y="677" width="1" height="27" fill="#c0c0c0"/>
<rect x="185" y="677" width="1" height="29" fill="#c0c0c0"/>
<rect x="193" y="677" width="1" height="25" fill="#c0c0c0"/>
<rect x="201" y="677" width="1" height="21" fill="#c0c0c0"/>
<rect x="209" y="677" width="1" height="18" fill="#c0c0c0"/>
<rect x="217" y="677" width="1" height="15" fill="#c0c0c0"/>
<rect x="225" y="677" width="1" height="14" fill="#c0c0c0"/>
<rect x="233" y="677" width="1" height="11" fill="#c0c0c0"/>
<rect x="241" y="677" width="1" height="5" fill="#c0c0c0"/>
<rect x="249" y="677" width="1" height="2" fill="#c0c0c0"/>
<rect x="257" y="675" width="1" height="3" fill="#c0c0c0"/>
<rect x="265" y="673" width="1" height="5" fill="#c0c0c0"/>
<rect x="273" y="670" width="1" height="8" fill="#c0c0c0"/>
<rect x="281" y="668" width="1" height="10" fill="#c0c0c0"/>
<rect x="289" y="664" width="1" height="14" fill="#c0c0c0"/>
<rect x="297" y="658" width="1" height="20" fill="#c0c0c0"/>
<rect x="305" y="654" width="1" height="24" fill="#c0c0c0"/>
<rect x="313" y="651" width="1" height="27" fill="#c0c0c0"/>
<rect x="321" y="648" width="1" height="30" fill="#c0c0c0"/>
<rect x="329" y="650" width="1" height="28" fill="#c0c0c0"/>
<rect x="337" y="654" width="1" height="24" fill="#c0c0c0"/>
<rect x="345" y="658" width="1" height="20" fill="#c0c0c0"/>
<rect x="353" y="659" width="1" height="19" fill="#c0c0c0"/>
<rect x="361" y="660" width="1" height="18" fill="#c0c0c0"/>
<rect x="369" y="661" width="1" height="17" fill="#c0c0c0"/>
<rect x="377" y="664" width="1" height="14" fill="#c0c0c0"/>
<rect x="385" y="663" width="1" height="15" fill="#c0c0c0"/>
<rect x="393" y="660" width="1" height="18" fill="#c0c0c0"/>
<rect x="401" y="657" width="1" height="21" fill="#c0c0c0"/>
<rect x="409" y="655" width="1" height="23" fill="#c0c0c0"/>
<rect x="417" y="652" width="1" height="26" fill="#c0c0c0"/>
<rect x="425" y="651" width="1" height="27" fill="#c0c0c0"/>
<rect x="433" y="650" width="1" height="28" fill="#c0c0c0"/>
<rect x="441" y="645" width="1" height="33" fill="#c0c0c0"/>
<rect x="449" y="641" width="1" height="37" fill="#c0c0c0"/>
<rect x="457" y="639" width="1" height="39" fill="#c0c0c0"/>
<rect x="465" y="631" width="1" height="47" fill="#c0c0c0"/>
<rect x="473" y="624" width="1" height="54" fill="#c0c0c0"/>
<rect x="481" y="620" width="1" height="58" fill="#c0c0c0"/>
<rect x="489" y="613" width="1" height="65" fill="#c0c0c0"/>
<rect x="497" y="611" width="1" height="67" fill="#c0c0c0"/>
<rect x="505" y="610" width="1" height="68" fill="#c0c0c0"/>
<rect x="513" y="610" width="1" height="68" fill="#c0c0c0"/>
<rect x="521" y="613" width="1" height="65" fill="#c0c0c0"/>
<rect x="529" y="611" width="1" height="67" fill="#c0c0c0"/>
<rect x="537" y="609" width="1" height="69" fill="#c0c0c0"/>
<rect x="545" y="610" width="1" height="68" fill="#c0c0c0"/>
<rect x="553" y="613" width="1" height="65" fill="#c0c0c0"/>
<rect x="561" y="615" width="1" height="63" fill="#c0c0c0"/>
<rect x="569" y="614" width="1" height="64" fill="#c0c0c0"/>
<rect x="577" y="616" width="1" height="62" fill="#c0c0c0"/>
<rect x="585" y="616" width="1" height="62" fill="#c0c0c0"/>
<rect x="593" y="617" width="1" height="61" fill="#c0c0c0"/>
<rect x="601" y="618" width="1" height="60" fill="#c0c0c0"/>
<rect x="609" y="617" width="1" height="61" fill="#c0c0c0"/>
<rect x="617" y="617" width="1" height="61" fill="#c0c0c0"/>
<rect x="625" y="615" width="1" height="63" fill="#c0c0c0"/>
<rect x="633" y="615" width="1" height="63" fill="#c0c0c0"/>
<rect x="641" y="617" width="1" height="61" fill="#c0c0c0"/>
<rect x="649" y="617" width="1" height="61" fill="#c0c0c0"/>
<rect x="657" y="615" width="1" height="63" fill="#c0c0c0"/>
<rect x="665" y="610" width="1" height="68" fill="#c0c0c0"/>
<rect x="673" y="603" width="1" height="75" fill="#c0c0c0"/>
<rect x="681" y="597" width="1" height="81" fill="#c0c0c0"/>
<rect x="689" y="595" width="1" height="83" fill="#c0c0c0"/>
<rect x="697" y="592" width="1" height="86" fill="#c0c0c0"/>
<rect x="705" y="593" width="1" height="85" fill="#c0c0c0"/>
<rect x="713" y="595" width="1" height="83" fill="#c0c0c0"/>
<rect x="721" y="597" width="1" height="81" fill="#c0c0c0"/>
<rect x="729" y="601" width="1" height="77" fill="#c0c0c0"/>
<rect x="737" y="605" width="1" height="73" fill="#c0c0c0"/>
<rect x="745" y="608" width="1" height="70" fill="#c0c0c0"/>
<rect x="753" y="610" width="1" height="68" fill="#c0c0c0"/>
<rect x="761" y="613" width="1" height="65" fill="#c0c0c0"/>
<rect x="769" y="610" width="1" height="68" fill="#c0c0c0"/>
<rect x="777" y="610" width="1" height="68" fill="#c0c0c0"/>
<rect x="785" y="611" width="1" height="67" fill="#c0c0c0"/>
<rect x="793" y="610" width="1" height="68" fill="#c0c0c0"/>
<rect x="801" y="610" width="1" height="68" fill="#c0c0c0"/>
<rect x="809" y="614" width="1" height="64" fill="#c0c0c0"/>
<rect x="817" y="621" width="1" height="57" fill="#c0c0c0"/>
<rect x="825" y="622" width="1" height="56" fill="#c0c0c0"/>
<rect x="833" y="622" width="1" height="56" fill="#c0c0c0"/>
<rect x="841" y="622" width="1" height="56" fill="#c0c0c0"/>
<rect x="849" y="624" width="1" height="54" fill="#c0c0c0"/>
<rect x="857" y="628" width="1" height="50" fill="#c0c0c0"/>
<rect x="865" y="632" width="1" height="46" fill="#c0c0c0"/>
<rect x="873" y="640" width="1" height="38" fill="#c0c0c0"/>
<rect x="881" y="645" width="1" height="33" fill="#c0c0c0"/>
<rect x="889" y="651" width="1" height="27" fill="#c0c0c0"/>
<rect x="897" y="654" width="1" height="24" fill="#c0c0c0"/>
<rect x="905" y="659" width="1" height="19" fill="#c0c0c0"/>
<rect x="913" y="663" width="1" height="15" fill="#c0c0c0"/>
<rect x="921" y="673" width="1" height="5" fill="#c0c0c0"/>
<rect x="929" y="677" width="1" height="5" fill="#c0c0c0"/>
<rect x="937" y="677" width="1" height="8" fill="#c0c0c0"/>
<rect x="945" y="677" width="1" height="10" fill="#c0c0c0"/>
<rect x="953" y="677" width="1" height="10" fill="#c0c0c0"/>
<rect x="961" y="677" width="1" height="12" fill="#c0c0c0"/>
<rect x="969" y="677" width="1" height="12" fill="#c0c0c0"/>
<rect x="977" y="677" width="1" height="13" fill="#c0c0c0"/>
<rect x="985" y="677" width="1" height="13" fill="#c0c0c0"/>
<rect x="993" y="677" width="1" height="11" fill="#c0c0c0"/>
<rect x="1001" y="677" width="1" height="8" fill="#c0c0c0"/>
<rect x="1009" y="677" width="1" height="3" fill="#c0c0c0"/>
<rect x="1017" y="676" width="1" height="2" fill="#c0c0c0"/>
<rect x="1025" y="675" width="1" height="3" fill="#c0c0c0"/>
<rect x="1033" y="673" width="1" height="5" fill="#c0c0c0"/>
<rect x="1041" y="674" width="1" height="4" fill="#c0c0c0"/>
<rect x="1049" y="677" width="1" height="2" fill="#c0c0c0"/>
<rect x="1057" y="677" width="1" height="8" fill="#c0c0c0"/>
<rect x="1065" y="677" width="1" height="10" fill="#c0c0c0"/>
<rect x="1073" y="677" width="1" height="12" fill="#c0c0c0"/>
<rect x="1081" y="677" width="1" height="14" fill="#c0c0c0"/>
<rect x="1089" y="677" width="1" height="16" fill="#c0c0c0"/>
<rect x="1097" y="677" width="1" height="16" fill="#c0c0c0"/>
<rect x="1105" y="677" width="1" height="17" fill="#c0c0c0"/>
<rect x="1113" y="677" width="1" height="15" fill="#c0c0c0"/>
<rect x="1121" y="677" width="1" height="13" fill="#c0c0c0"/>
<rect x="1129" y="677" width="1" height="10" fill="#c0c0c0"/>
<rect x="1137" y="677" width="1" height="8" fill="#c0c0c0"/>
<rect x="1145" y="677" width="1" height="7" fill="#c0c0c0"/>
<rect x="1153" y="677" width="1" height="3" fill="#c0c0c0"/>
<rect x="1161" y="677" width="1" height="7" fill="#c0c0c0"/>
<rect x="1169" y="677" width="1" height="11" fill="#c0c0c0"/>
<rect x="1177" y="677" width="1" height="11" fill="#c0c0c0"/>
<rect x="1185" y="677" width="1" height="12" fill="#c0c0c0"/>
<rect x="1193" y="677" width="1" height="13" fill="#c0c0c0"/>
<rect x="1201" y="677" width="1" height="13" fill="#c0c0c0"/>
<rect x="1209" y="677" width="1" height="13" fill="#c0c0c0"/>
<rect x="1217" y="677" width="1" height="16" fill="#c0c0c0"/>
<rect x="1225" y="677" width="1" height="18" fill="#c0c0c0"/>
<rect x="1233" y="677" width="1" height="21" fill="#c0c0c0"/>
<rect x="1241" y="677" width="1" height="25" fill="#c0c0c0"/>
<rect x="1249" y="677" width="1" height="29" fill="#c0c0c0"/>
<rect x="1257" y="677" width="1" height="33" fill="#c0c0c0"/>
<rect x="1265" y="677" width="1" height="35" fill="#c0c0c0"/>
<rect x="1273" y="677" width="1" height="35" fill="#c0c0c0"/>
<rect x="1281" y="677" width="1" height="36" fill="#c0c0c0"/>
<rect x="1289" y="677" width="1" height="35" fill="#c0c0c0"/>
<rect x="1297" y="677" width="1" height="33" fill="#c0c0c0"/>
<rect x="1305" y="677" width="1" height="28" fill="#c0c0c0"/>
<rect x="1313" y="677" width="1" height="23" fill="#c0c0c0"/>
<rect x="1321" y="677" width="1" height="16" fill="#c0c0c0"/>
<rect x="1329" y="677" width="1" height="13" fill="#c0c0c0"/>
<rect x="1337" y="677" width="1" height="10" fill="#c0c0c0"/>
<rect x="1345" y="677" width="1" height="13" fill="#c0c0c0"/>
<rect x="1353" y="677" width="1" height="28" fill="#c0c0c0"/>
<rect x="1361" y="677" width="1" height="39" fill="#c0c0c0"/>
<rect x="1369" y="677" width="1" height="45" fill="#c0c0c0"/>
<rect x="1377" y="677" width="1" height="51" fill="#c0c0c0"/>
<rect x="1385" y="677" width="1" height="55" fill="#c0c0c0"/>
<rect x="1393" y="677" width="1" height="61" fill="#c0c0c0"/>
<rect x="1401" y="677" width="1" height="65" fill="#c0c0c0"/>
<rect x="1409" y="677" width="1" height="69" fill="#c0c0c0"/>
</g>
<polyline points="0.0,651.6 9.5,648.3 25.0,646.4 40.0,642.6 57.0,641.5 65.5,643.0 73.5,644.7 81.5,647.3 89.5,651.0 97.5,655.6 105.5,661.1 113.5,667.2 121.5,673.0 129.5,677.6 137.5,681.7 145.5,685.2 153.5,688.4 161.5,691.2 169.5,693.3 177.5,695.3 185.5,697.1 193.5,698.0 201.5,698.5 209.5,698.6 217.5,698.5 225.5,698.1 233.5,696.8 241.5,694.8 249.5,692.0 257.5,688.7 265.5,685.6 273.5,682.7 281.5,679.8 289.5,676.8 297.5,673.1 305.5,669.5 313.5,666.2 321.5,662.8 329.5,660.0 337.5,657.9 345.5,656.5 353.5,655.5 361.5,655.0 369.5,655.4 377.5,656.4 385.5,657.8 393.5,659.1 401.5,660.0 409.5,660.1 417.5,659.5 425.5,658.6 433.5,657.5 441.5,655.7 449.5,653.2 457.5,650.4 465.5,647.3 473.5,643.6 481.5,639.6 489.5,635.2 497.5,630.8 505.5,626.4 513.5,622.6 521.5,619.4 529.5,616.3 537.5,613.8 545.5,612.2 553.5,611.6 561.5,611.8 569.5,612.1 577.5,612.7 585.5,613.3 593.5,613.9 601.5,614.7 609.5,615.7 617.5,616.4 625.5,616.6 633.5,616.7 641.5,617.0 649.5,617.1 657.5,617.1 665.5,616.3 673.5,614.6 681.5,612.3 689.5,609.9 697.5,607.4 705.5,605.0 713.5,602.5 721.5,600.3 729.5,598.7 737.5,598.1 745.5,598.6 753.5,600.1 761.5,602.1 769.5,604.1 777.5,605.9 785.5,607.7 793.5,609.2 801.5,610.1 809.5,611.2 817.5,612.6 825.5,613.9 833.5,614.9 841.5,616.3 849.5,617.9 857.5,619.8 865.5,622.2 873.5,625.6 881.5,629.0 889.5,632.4 897.5,636.0 905.5,640.1 913.5,644.7 921.5,650.1 929.5,655.9 937.5,661.7 945.5,666.8 953.5,671.4 961.5,675.5 969.5,679.3 977.5,682.6 985.5,685.5 993.5,687.0 1001.5,687.3 1009.5,686.7 1017.5,685.7 1025.5,684.4 1033.5,682.8 1041.5,681.1 1049.5,679.9 1057.5,679.3 1065.5,679.3 1073.5,679.7 1081.5,680.9 1089.5,682.6 1097.5,684.5 1105.5,686.7 1113.5,688.6 1121.5,689.8 1129.5,690.1 1137.5,689.8 1145.5,689.2 1153.5,688.0 1161.5,687.1 1169.5,686.5 1177.5,685.9 1185.5,685.5 1193.5,685.5 1201.5,685.8 1209.5,686.3 1217.5,687.3 1225.5,689.0 1233.5,690.6 1241.5,692.2 1249.5,694.2 1257.5,696.6 1265.5,699.1 1273.5,701.6 1281.5,704.1 1289.5,706.3 1297.5,708.0 1305.5,708.8 1313.5,708.5 1321.5,707.1 1329.5,704.8 1337.5,702.0 1345.5,699.4 1353.5,698.6 1361.5,699.0 1369.5,700.3 1377.5,702.9 1385.5,706.4 1393.5,711.4 1401.5,717.2 1409.5,723.7" fill="none" stroke="#ff0000" stroke-width="1" stroke-dasharray="3,3" shape-rendering="crispEdges"/>
<g shape-rendering="crispEdges">
<line x1="0" y1="791.5" x2="1652" y2="791.5" stroke="#c0c0c0" stroke-width="1" stroke-dasharray="3,3"/>
<line x1="0" y1="842.5" x2="1652" y2="842.5" stroke="#c0c0c0" stroke-width="1" stroke-dasharray="3,3"/>
<line x1="0" y1="903.5" x2="1652" y2="903.5" stroke="#c0c0c0" stroke-width="1" stroke-dasharray="3,3"/>
</g>
<polyline points="1.5,814.5 9.5,811.3 17.5,812.7 25.5,816.0 33.5,808.9 41.5,819.0 49.5,838.1 57.5,855.3 65.5,849.8 73.5,847.3 81.5,849.8 89.5,858.7 97.5,862.1 105.5,862.5 113.5,863.5 121.5,860.4 129.5,851.7 137.5,856.0 145.5,848.8 153.5,859.1 161.5,864.1 169.5,857.6 177.5,868.8 185.5,862.0 193.5,843.5 201.5,842.1 209.5,844.2 217.5,842.8 225.5,848.3 233.5,837.5 241.5,829.9 249.5,836.0 257.5,833.9 265.5,834.0 273.5,830.7 281.5,829.7 289.5,823.0 297.5,813.8 305.5,817.1 313.5,816.1 321.5,814.6 329.5,832.9 337.5,841.8 345.5,844.7 353.5,836.1 361.5,834.4 369.5,836.9 377.5,843.4 385.5,833.4 393.5,822.4 401.5,824.0 409.5,821.1 417.5,818.5 425.5,820.2 433.5,818.3 441.5,806.3 449.5,808.0 457.5,806.8 465.5,795.0 473.5,792.1 481.5,794.0 489.5,788.3 497.5,804.5 505.5,803.4 513.5,805.7 521.5,811.6 529.5,802.3 537.5,800.5 545.5,809.7 553.5,818.1 561.5,812.6 569.5,809.0 577.5,810.7 585.5,807.7 593.5,812.0 601.5,809.5 609.5,804.1 617.5,802.9 625.5,798.6 633.5,805.9 641.5,807.3 649.5,803.3 657.5,798.5 665.5,790.9 673.5,785.1 681.5,784.9 689.5,791.5 697.5,789.1 705.5,800.0 713.5,799.1 721.5,800.6 729.5,812.4 737.5,809.0 745.5,809.0 753.5,806.5 761.5,806.5 769.5,794.9 777.5,799.7 785.5,803.7 793.5,799.1 801.5,797.1 809.5,821.6 817.5,830.4 825.5,817.4 833.5,816.0 841.5,814.0 849.5,818.2 857.5,828.1 865.5,828.1 873.5,844.3 881.5,841.2 889.5,846.2 897.5,837.1 905.5,848.4 913.5,847.0 921.5,864.6 929.5,865.2 937.5,854.6 945.5,850.3 953.5,848.5 961.5,854.6 969.5,849.0 977.5,850.7 985.5,849.2 993.5,842.7 1001.5,836.3 1009.5,829.7 1017.5,832.6 1025.5,837.9 1033.5,835.0 1041.5,841.7 1049.5,857.3 1057.5,862.8 1065.5,856.6 1073.5,853.9 1081.5,856.9 1089.5,858.2 1097.5,854.3 1105.5,856.9 1113.5,846.3 1121.5,843.5 1129.5,837.9 1137.5,839.8 1145.5,842.4 1153.5,830.6 1161.5,857.8 1169.5,860.5 1177.5,849.7 1185.5,852.0 1193.5,852.4 1201.5,851.0 1209.5,852.2 1217.5,863.1 1225.5,863.1 1233.5,868.2 1241.5,874.9 1249.5,876.2 1257.5,881.4 1265.5,870.1 1273.5,870.1 1281.5,870.5 1289.5,870.3 1297.5,861.0 1305.5,842.7 1313.5,837.3 1321.5,830.2 1329.5,836.6 1337.5,838.0 1345.5,860.2 1353.5,888.0 1361.5,881.5 1369.5,875.3 1377.5,878.5 1385.5,874.7 1393.5,881.9 1401.5,880.9 1409.5,883.0" fill="none" stroke="#1e90ff" stroke-width="1" shape-rendering="crispEdges"/>
<g shape-rendering="crispEdges">
<line x1="0" y1="581.5" x2="1653" y2="581.5" stroke="#000" stroke-width="1" />
<line x1="0" y1="583.5" x2="1653" y2="583.5" stroke="#000" stroke-width="1" />
<line x1="0" y1="753.5" x2="1653" y2="753.5" stroke="#000" stroke-width="1" />
<line x1="0" y1="755.5" x2="1653" y2="755.5" stroke="#000" stroke-width="1" />
<line x1="0" y1="929.5" x2="1653" y2="929.5" stroke="#000" stroke-width="1" />
<line x1="1652.5" y1="28" x2="1652.5" y2="582" stroke="#000" stroke-width="1" />
<line x1="1652.5" y1="583" x2="1652.5" y2="754" stroke="#000" stroke-width="1" />
<line x1="1652.5" y1="755" x2="1652.5" y2="930" stroke="#000" stroke-width="1" />
</g>
<rect x="1647.5" y="318.5" width="4" height="4" fill="#fff" stroke="#ff0000" stroke-width="1" shape-rendering="crispEdges"/>
<rect x="1647.5" y="339.5" width="4" height="4" fill="#fff" stroke="#32cd32" stroke-width="1" shape-rendering="crispEdges"/>
<rect x="1647.5" y="379.5" width="4" height="4" fill="#fff" stroke="#0000ff" stroke-width="1" shape-rendering="crispEdges"/>
<rect x="1647.5" y="404.5" width="4" height="4" fill="#fff" stroke="#0000ff" stroke-width="1" shape-rendering="crispEdges"/>
<path d="M1414 29H1423.5L1418.75 34.5z" fill="#c0c0c0"/>
<path d="M0 36L3 39.5H-1z" fill="#000"/>
<text x="8" y="40" font-size="9.5" fill="#000" xml:space="preserve" textLength="200" lengthAdjust="spacingAndGlyphs">GBPJPY-,H4  153.034 153.100 152.843 152.855</text>
<defs><linearGradient id="gh" x1="0" y1="0" x2="0" y2="1"><stop offset="0" stop-color="#fb5858"/><stop offset="1" stop-color="#e02a2a"/></linearGradient><linearGradient id="gp" x1="0" y1="0" x2="0" y2="1"><stop offset="0" stop-color="#de2c2c"/><stop offset="1" stop-color="#b40606"/></linearGradient><linearGradient id="gb" x1="0" y1="0" x2="0" y2="1"><stop offset="0" stop-color="#f6f6f6"/><stop offset="0.5" stop-color="#e6e6e6"/><stop offset="0.5" stop-color="#d6d6d6"/><stop offset="1" stop-color="#cfcfcf"/></linearGradient></defs>
<rect x="0" y="48" width="47" height="24" fill="url(#gh)"/>
<rect x="46" y="48" width="1" height="24" fill="#b81818"/>
<rect x="0" y="71" width="44" height="1" fill="#8a0a0a"/>
<rect x="0" y="72" width="105" height="33" fill="url(#gp)"/>
<rect x="163" y="48" width="52" height="24" fill="url(#gh)"/>
<rect x="163" y="48" width="1" height="24" fill="#b81818"/><rect x="214" y="48" width="1" height="57" fill="#b00808"/>
<rect x="167" y="71" width="44" height="1" fill="#8a0a0a"/>
<rect x="107" y="72" width="108" height="33" fill="url(#gp)"/>
<rect x="50.5" y="48.5" width="110" height="21" fill="#fff" stroke="#a4aab2"/>
<rect x="51.5" y="49.5" width="19.5" height="19" fill="url(#gb)" stroke="#c2c6cc"/>
<rect x="140" y="49.5" width="20" height="19" fill="url(#gb)" stroke="#c2c6cc"/>
<path d="M58 57.5h5.5l-2.75 2.8z" fill="#4a62c8"/>
<path d="M147 60.5h5.5l-2.75 -2.8z" fill="#4a62c8"/>
<text x="135.5" y="63" font-size="12" fill="#111" text-anchor="end" textLength="23" lengthAdjust="spacingAndGlyphs">1.00</text>
<g fill="#ffffff">
<text x="8" y="64" font-size="12.2" textLength="26" lengthAdjust="spacingAndGlyphs">SELL</text>
<text x="177" y="64" font-size="12.2" textLength="23" lengthAdjust="spacingAndGlyphs">BUY</text>
<text x="19.5" y="100" font-size="11" font-weight="bold" textLength="20.5" lengthAdjust="spacingAndGlyphs">152</text>
<text x="43.5" y="100.5" font-size="33.5" textLength="34" lengthAdjust="spacingAndGlyphs">85</text>
<text x="83" y="84" font-size="11.5" font-weight="bold" textLength="6.5" lengthAdjust="spacingAndGlyphs">5</text>
<text x="129.3" y="100" font-size="11" font-weight="bold" textLength="20.5" lengthAdjust="spacingAndGlyphs">152</text>
<text x="155" y="100.5" font-size="33.5" textLength="33.5" lengthAdjust="spacingAndGlyphs">89</text>
<text x="193.8" y="84" font-size="11.5" font-weight="bold" textLength="7" lengthAdjust="spacingAndGlyphs">6</text>
</g>
<g shape-rendering="crispEdges" stroke="#ff0000" stroke-width="1" fill="none">
<path d="M175 568.5H185.5"/>
<path d="M1143 118.5H1153.5V124"/>
<path d="M1312 167.5H1321.5V170"/>
<path d="M1218 341.5H1225"/><rect x="1225.5" y="339.5" width="3" height="4" fill="#fff"/>
<rect x="1383.5" y="363.5" width="3" height="3" fill="#fff"/><path d="M1387 365.5H1393.5V364"/>
</g>
<rect x="114.5" y="559.5" width="61.0" height="18.0" fill="#fff" stroke="#ff0000" stroke-width="1" shape-rendering="crispEdges"/>
<text x="117.2" y="574.5" font-size="15.6" fill="#ff0000" textLength="56.0" lengthAdjust="spacingAndGlyphs">149.212</text>
<rect x="1082.5" y="109.5" width="61.0" height="18.0" fill="#fff" stroke="#ff0000" stroke-width="1" shape-rendering="crispEdges"/>
<text x="1085.0" y="124.3" font-size="15.6" fill="#ff0000" textLength="56.0" lengthAdjust="spacingAndGlyphs">157.099</text>
<rect x="1250.5" y="158.5" width="62.0" height="18.0" fill="#fff" stroke="#ff0000" stroke-width="1" shape-rendering="crispEdges"/>
<text x="1253.0" y="173.3" font-size="15.6" fill="#ff0000" textLength="56.0" lengthAdjust="spacingAndGlyphs">156.243</text>
<rect x="1322.5" y="356.5" width="61.0" height="18.0" fill="#fff" stroke="#ff0000" stroke-width="1" shape-rendering="crispEdges"/>
<text x="1325.0" y="371.3" font-size="15.6" fill="#ff0000" textLength="56.0" lengthAdjust="spacingAndGlyphs">152.774</text>
<rect x="1228.5" y="329.5" width="73.0" height="24.0" fill="#fff" stroke="#ff0000" stroke-width="1" shape-rendering="crispEdges"/>
<text x="1230.8" y="350.2" font-size="21.5" fill="#ff0000" textLength="69.4" lengthAdjust="spacingAndGlyphs">153.194</text>
<rect x="1334" y="338" width="160" height="8" fill="#00ff00" shape-rendering="crispEdges"/>
<line x1="1317.0" y1="175.5" x2="1420.5" y2="376.7" stroke="#ff0000" stroke-width="3.4"/>
<path d="M1425.5 386.5L1415.1 378.3L1424.9 373.3z" fill="#ff0000"/>
<line x1="1341.0" y1="689.0" x2="1416.1" y2="752.2" stroke="#ff0000" stroke-width="2.7"/>
<path d="M1423.0 758.0L1412.5 755.0L1418.2 748.1z" fill="#ff0000"/>
<line x1="1347.0" y1="879.5" x2="1416.0" y2="883.3" stroke="#ff0000" stroke-width="3.5"/>
<path d="M1426.0 883.8L1414.8 887.7L1415.3 878.7z" fill="#ff0000"/>
<g font-size="9" fill="#000" stroke="#000" stroke-width="0.25">
<rect x="1653" y="50" width="2" height="1" fill="#000"/>
<text x="1658.5" y="54" textLength="32.3" lengthAdjust="spacingAndGlyphs">158.305</text>
<rect x="1653" y="83" width="2" height="1" fill="#000"/>
<text x="1658.5" y="87" textLength="32.3" lengthAdjust="spacingAndGlyphs">157.720</text>
<rect x="1653" y="116" width="2" height="1" fill="#000"/>
<text x="1658.5" y="120" textLength="32.3" lengthAdjust="spacingAndGlyphs">157.135</text>
<rect x="1653" y="149" width="2" height="1" fill="#000"/>
<text x="1658.5" y="153" textLength="32.3" lengthAdjust="spacingAndGlyphs">156.565</text>
<rect x="1653" y="182" width="2" height="1" fill="#000"/>
<text x="1658.5" y="186" textLength="32.3" lengthAdjust="spacingAndGlyphs">155.980</text>
<rect x="1653" y="215" width="2" height="1" fill="#000"/>
<text x="1658.5" y="219" textLength="32.3" lengthAdjust="spacingAndGlyphs">155.410</text>
<rect x="1653" y="248" width="2" height="1" fill="#000"/>
<text x="1658.5" y="252" textLength="32.3" lengthAdjust="spacingAndGlyphs">154.825</text>
<rect x="1653" y="281" width="2" height="1" fill="#000"/>
<text x="1658.5" y="285" textLength="32.3" lengthAdjust="spacingAndGlyphs">154.240</text>
<rect x="1653" y="314" width="2" height="1" fill="#000"/>
<text x="1658.5" y="318" textLength="32.3" lengthAdjust="spacingAndGlyphs">153.670</text>
<rect x="1653" y="347" width="2" height="1" fill="#000"/>
<text x="1658.5" y="351" textLength="32.3" lengthAdjust="spacingAndGlyphs">153.085</text>
<rect x="1653" y="380" width="2" height="1" fill="#000"/>
<text x="1658.5" y="384" textLength="32.3" lengthAdjust="spacingAndGlyphs">152.500</text>
<rect x="1653" y="413" width="2" height="1" fill="#000"/>
<text x="1658.5" y="417" textLength="32.3" lengthAdjust="spacingAndGlyphs">151.930</text>
<rect x="1653" y="446" width="2" height="1" fill="#000"/>
<text x="1658.5" y="450" textLength="32.3" lengthAdjust="spacingAndGlyphs">151.345</text>
<rect x="1653" y="479" width="2" height="1" fill="#000"/>
<text x="1658.5" y="483" textLength="32.3" lengthAdjust="spacingAndGlyphs">150.775</text>
<rect x="1653" y="512" width="2" height="1" fill="#000"/>
<text x="1658.5" y="516" textLength="32.3" lengthAdjust="spacingAndGlyphs">150.190</text>
<rect x="1653" y="545" width="2" height="1" fill="#000"/>
<text x="1658.5" y="549" textLength="32.3" lengthAdjust="spacingAndGlyphs">149.605</text>
<rect x="1653" y="578" width="2" height="1" fill="#000"/>
<text x="1658.5" y="582" textLength="32.3" lengthAdjust="spacingAndGlyphs">149.035</text>
<rect x="1653" y="585" width="2" height="1" fill="#000"/>
<rect x="1653" y="677" width="2" height="1" fill="#000"/>
<rect x="1653" y="752" width="2" height="1" fill="#000"/>
<text x="1656.3" y="594" textLength="27.5" lengthAdjust="spacingAndGlyphs">1.0418</text>
<text x="1656.5" y="681.3" textLength="17" lengthAdjust="spacingAndGlyphs">0.00</text>
<text x="1656" y="750" textLength="31" lengthAdjust="spacingAndGlyphs">-0.8536</text>
<rect x="1653" y="757" width="2" height="1" fill="#000"/>
<rect x="1653" y="791" width="2" height="1" fill="#000"/>
<rect x="1653" y="842" width="2" height="1" fill="#000"/>
<rect x="1653" y="903" width="2" height="1" fill="#000"/>
<rect x="1653" y="929" width="2" height="1" fill="#000"/>
<text x="1657" y="765.5">100</text>
<text x="1657" y="795.5">80</text>
<text x="1657" y="846.5">50</text>
<text x="1657" y="907">15</text>
<text x="1657" y="926">0</text>
</g>
<rect x="1654" y="286" width="41" height="11" fill="#ff0000" shape-rendering="crispEdges"/>
<text x="1658.5" y="295" font-size="9" fill="#fff" textLength="32.3" lengthAdjust="spacingAndGlyphs">154.053</text>
<rect x="1654" y="314" width="41" height="11" fill="#ff0000" shape-rendering="crispEdges"/>
<text x="1658.5" y="323" font-size="9" fill="#fff" textLength="32.3" lengthAdjust="spacingAndGlyphs">153.562</text>
<rect x="1654" y="335" width="41" height="11" fill="#32cd32" shape-rendering="crispEdges"/>
<text x="1658.5" y="344" font-size="9" fill="#fff" textLength="32.3" lengthAdjust="spacingAndGlyphs">153.194</text>
<rect x="1654" y="354" width="41" height="11" fill="#000000" shape-rendering="crispEdges"/>
<text x="1658.5" y="363" font-size="9" fill="#fff" textLength="32.3" lengthAdjust="spacingAndGlyphs">152.855</text>
<rect x="1654" y="375" width="41" height="11" fill="#0000ff" shape-rendering="crispEdges"/>
<text x="1658.5" y="384" font-size="9" fill="#fff" textLength="32.3" lengthAdjust="spacingAndGlyphs">152.494</text>
<rect x="1654" y="400" width="41" height="11" fill="#0000ff" shape-rendering="crispEdges"/>
<text x="1658.5" y="409" font-size="9" fill="#fff" textLength="32.3" lengthAdjust="spacingAndGlyphs">152.056</text>
<text x="-1.5" y="596" font-size="9.2" fill="#000" textLength="132" lengthAdjust="spacingAndGlyphs">MACD(12,26,9) -0.7674 -0.5246</text>
<text x="-1.5" y="768" font-size="9" fill="#000" textLength="66" lengthAdjust="spacingAndGlyphs">RSI(14) 26.7531</text>
<g font-size="9" fill="#000" stroke="#000" stroke-width="0.25">
<rect x="-7" y="930" width="1" height="3" fill="#000"/>
<text x="-8.0" y="941.5" textLength="51.0" lengthAdjust="spacingAndGlyphs">27 Sep 2021</text>
<rect x="57" y="930" width="1" height="3" fill="#000"/>
<text x="56.3" y="941.5" textLength="54.2" lengthAdjust="spacingAndGlyphs">28 Sep 12:00</text>
<rect x="121" y="930" width="1" height="3" fill="#000"/>
<text x="120.3" y="941.5" textLength="54.2" lengthAdjust="spacingAndGlyphs">29 Sep 20:00</text>
<rect x="185" y="930" width="1" height="3" fill="#000"/>
<text x="184.3" y="941.5" textLength="48.7" lengthAdjust="spacingAndGlyphs">1 Oct 04:00</text>
<rect x="249" y="930" width="1" height="3" fill="#000"/>
<text x="248.3" y="941.5" textLength="48.7" lengthAdjust="spacingAndGlyphs">4 Oct 12:00</text>
<rect x="313" y="930" width="1" height="3" fill="#000"/>
<text x="312.3" y="941.5" textLength="48.7" lengthAdjust="spacingAndGlyphs">5 Oct 20:00</text>
<rect x="377" y="930" width="1" height="3" fill="#000"/>
<text x="376.3" y="941.5" textLength="48.7" lengthAdjust="spacingAndGlyphs">7 Oct 04:00</text>
<rect x="441" y="930" width="1" height="3" fill="#000"/>
<text x="440.3" y="941.5" textLength="48.7" lengthAdjust="spacingAndGlyphs">8 Oct 12:00</text>
<rect x="505" y="930" width="1" height="3" fill="#000"/>
<text x="504.3" y="941.5" textLength="53.5" lengthAdjust="spacingAndGlyphs">11 Oct 20:00</text>
<rect x="569" y="930" width="1" height="3" fill="#000"/>
<text x="568.3" y="941.5" textLength="53.5" lengthAdjust="spacingAndGlyphs">13 Oct 04:00</text>
<rect x="633" y="930" width="1" height="3" fill="#000"/>
<text x="632.3" y="941.5" textLength="53.5" lengthAdjust="spacingAndGlyphs">14 Oct 12:00</text>
<rect x="697" y="930" width="1" height="3" fill="#000"/>
<text x="696.3" y="941.5" textLength="53.5" lengthAdjust="spacingAndGlyphs">17 Oct 23:00</text>
<rect x="761" y="930" width="1" height="3" fill="#000"/>
<text x="760.3" y="941.5" textLength="53.5" lengthAdjust="spacingAndGlyphs">19 Oct 04:00</text>
<rect x="825" y="930" width="1" height="3" fill="#000"/>
<text x="824.3" y="941.5" textLength="53.5" lengthAdjust="spacingAndGlyphs">20 Oct 12:00</text>
<rect x="889" y="930" width="1" height="3" fill="#000"/>
<text x="888.3" y="941.5" textLength="53.5" lengthAdjust="spacingAndGlyphs">21 Oct 20:00</text>
<rect x="953" y="930" width="1" height="3" fill="#000"/>
<text x="952.3" y="941.5" textLength="53.5" lengthAdjust="spacingAndGlyphs">25 Oct 04:00</text>
<rect x="1017" y="930" width="1" height="3" fill="#000"/>
<text x="1016.3" y="941.5" textLength="53.5" lengthAdjust="spacingAndGlyphs">26 Oct 12:00</text>
<rect x="1081" y="930" width="1" height="3" fill="#000"/>
<text x="1080.3" y="941.5" textLength="53.5" lengthAdjust="spacingAndGlyphs">27 Oct 20:00</text>
<rect x="1145" y="930" width="1" height="3" fill="#000"/>
<text x="1144.3" y="941.5" textLength="53.5" lengthAdjust="spacingAndGlyphs">29 Oct 04:00</text>
<rect x="1209" y="930" width="1" height="3" fill="#000"/>
<text x="1208.3" y="941.5" textLength="51.2" lengthAdjust="spacingAndGlyphs">1 Nov 12:00</text>
<rect x="1273" y="930" width="1" height="3" fill="#000"/>
<text x="1272.3" y="941.5" textLength="51.2" lengthAdjust="spacingAndGlyphs">2 Nov 20:00</text>
<rect x="1337" y="930" width="1" height="3" fill="#000"/>
<text x="1336.3" y="941.5" textLength="51.2" lengthAdjust="spacingAndGlyphs">4 Nov 04:00</text>
<rect x="1401" y="930" width="1" height="3" fill="#000"/>
<text x="1400.3" y="941.5" textLength="51.2" lengthAdjust="spacingAndGlyphs">5 Nov 12:00</text>
</g>
</svg></body></html>
